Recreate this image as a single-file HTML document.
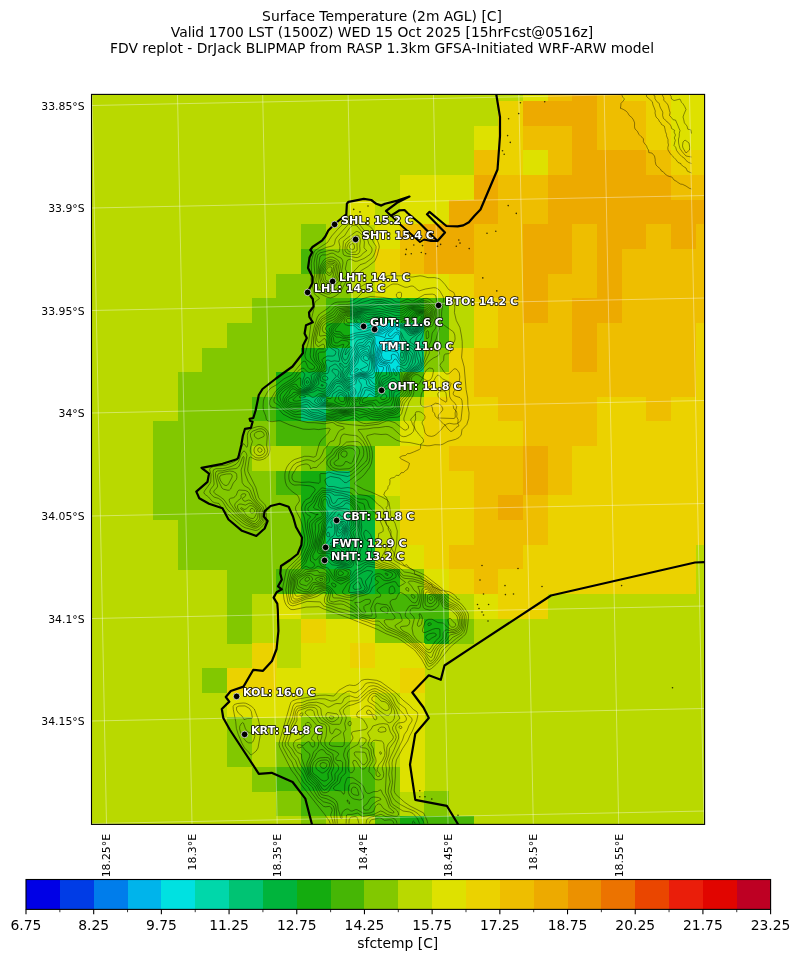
<!DOCTYPE html>
<html lang="en"><head><meta charset="utf-8"><title>Surface Temperature (2m AGL) [C]</title>
<style>html,body{margin:0;padding:0;background:#fff}body{width:799px;height:962px;overflow:hidden}svg text{white-space:pre}</style></head>
<body>
<svg width="799" height="962" viewBox="0 0 799 962" style="display:block">
<rect width="799" height="962" fill="#fff"/>
<defs><clipPath id="cp"><rect x="91.5" y="94.4" width="613.1" height="730.0"/></clipPath></defs>
<g clip-path="url(#cp)">
<rect x="91.5" y="94.4" width="613.1" height="730.0" fill="#b9d900"/>
<g shape-rendering="crispEdges">
<rect x="522.92" y="76.24" width="24.96" height="24.96" fill="#dee100"/>
<rect x="547.58" y="76.24" width="24.96" height="24.96" fill="#eebe00"/>
<rect x="572.24" y="76.24" width="24.96" height="24.96" fill="#edaa00"/>
<rect x="596.90" y="76.24" width="24.96" height="24.96" fill="#eebe00"/>
<rect x="621.56" y="76.24" width="49.62" height="24.96" fill="#ebd200"/>
<rect x="670.88" y="76.24" width="49.62" height="24.96" fill="#dee100"/>
<rect x="498.26" y="100.90" width="24.96" height="24.96" fill="#ebd200"/>
<rect x="522.92" y="100.90" width="74.28" height="24.96" fill="#edaa00"/>
<rect x="596.90" y="100.90" width="49.62" height="24.96" fill="#eebe00"/>
<rect x="646.22" y="100.90" width="24.96" height="24.96" fill="#ebd200"/>
<rect x="670.88" y="100.90" width="49.62" height="24.96" fill="#dee100"/>
<rect x="473.60" y="125.56" width="24.96" height="24.96" fill="#dee100"/>
<rect x="498.26" y="125.56" width="24.96" height="24.96" fill="#ebd200"/>
<rect x="522.92" y="125.56" width="49.62" height="24.96" fill="#eebe00"/>
<rect x="572.24" y="125.56" width="24.96" height="24.96" fill="#edaa00"/>
<rect x="596.90" y="125.56" width="49.62" height="24.96" fill="#eebe00"/>
<rect x="646.22" y="125.56" width="24.96" height="24.96" fill="#ebd200"/>
<rect x="670.88" y="125.56" width="49.62" height="24.96" fill="#dee100"/>
<rect x="473.60" y="150.22" width="24.96" height="24.96" fill="#eebe00"/>
<rect x="498.26" y="150.22" width="24.96" height="24.96" fill="#ebd200"/>
<rect x="522.92" y="150.22" width="24.96" height="24.96" fill="#dee100"/>
<rect x="547.58" y="150.22" width="24.96" height="24.96" fill="#eebe00"/>
<rect x="572.24" y="150.22" width="74.28" height="24.96" fill="#edaa00"/>
<rect x="646.22" y="150.22" width="24.96" height="24.96" fill="#eebe00"/>
<rect x="670.88" y="150.22" width="49.62" height="24.96" fill="#ebd200"/>
<rect x="399.62" y="174.88" width="74.28" height="24.96" fill="#dee100"/>
<rect x="473.60" y="174.88" width="24.96" height="24.96" fill="#edaa00"/>
<rect x="498.26" y="174.88" width="49.62" height="24.96" fill="#eebe00"/>
<rect x="547.58" y="174.88" width="123.60" height="24.96" fill="#edaa00"/>
<rect x="670.88" y="174.88" width="49.62" height="24.96" fill="#eebe00"/>
<rect x="350.30" y="199.54" width="24.96" height="24.96" fill="#dee100"/>
<rect x="399.62" y="199.54" width="49.62" height="24.96" fill="#dee100"/>
<rect x="448.94" y="199.54" width="49.62" height="24.96" fill="#edaa00"/>
<rect x="498.26" y="199.54" width="49.62" height="24.96" fill="#eebe00"/>
<rect x="547.58" y="199.54" width="172.92" height="24.96" fill="#edaa00"/>
<rect x="300.98" y="224.20" width="24.96" height="24.96" fill="#82c800"/>
<rect x="374.96" y="224.20" width="24.96" height="24.96" fill="#dee100"/>
<rect x="399.62" y="224.20" width="24.96" height="24.96" fill="#eebe00"/>
<rect x="424.28" y="224.20" width="49.62" height="24.96" fill="#edaa00"/>
<rect x="473.60" y="224.20" width="49.62" height="24.96" fill="#eebe00"/>
<rect x="522.92" y="224.20" width="49.62" height="24.96" fill="#edaa00"/>
<rect x="572.24" y="224.20" width="24.96" height="24.96" fill="#eebe00"/>
<rect x="596.90" y="224.20" width="49.62" height="24.96" fill="#edaa00"/>
<rect x="646.22" y="224.20" width="24.96" height="24.96" fill="#eebe00"/>
<rect x="670.88" y="224.20" width="24.96" height="24.96" fill="#edaa00"/>
<rect x="695.54" y="224.20" width="24.96" height="24.96" fill="#eebe00"/>
<rect x="300.98" y="248.86" width="24.96" height="24.96" fill="#46b605"/>
<rect x="325.64" y="248.86" width="24.96" height="24.96" fill="#82c800"/>
<rect x="374.96" y="248.86" width="24.96" height="24.96" fill="#ebd200"/>
<rect x="399.62" y="248.86" width="24.96" height="24.96" fill="#eebe00"/>
<rect x="424.28" y="248.86" width="49.62" height="24.96" fill="#edaa00"/>
<rect x="473.60" y="248.86" width="49.62" height="24.96" fill="#eebe00"/>
<rect x="522.92" y="248.86" width="49.62" height="24.96" fill="#edaa00"/>
<rect x="572.24" y="248.86" width="24.96" height="24.96" fill="#eebe00"/>
<rect x="596.90" y="248.86" width="24.96" height="24.96" fill="#edaa00"/>
<rect x="621.56" y="248.86" width="98.94" height="24.96" fill="#eebe00"/>
<rect x="276.32" y="273.52" width="74.28" height="24.96" fill="#82c800"/>
<rect x="374.96" y="273.52" width="74.28" height="24.96" fill="#dee100"/>
<rect x="448.94" y="273.52" width="24.96" height="24.96" fill="#ebd200"/>
<rect x="473.60" y="273.52" width="49.62" height="24.96" fill="#eebe00"/>
<rect x="522.92" y="273.52" width="24.96" height="24.96" fill="#edaa00"/>
<rect x="547.58" y="273.52" width="49.62" height="24.96" fill="#eebe00"/>
<rect x="596.90" y="273.52" width="24.96" height="24.96" fill="#edaa00"/>
<rect x="621.56" y="273.52" width="98.94" height="24.96" fill="#eebe00"/>
<rect x="251.66" y="298.18" width="74.28" height="24.96" fill="#82c800"/>
<rect x="325.64" y="298.18" width="24.96" height="24.96" fill="#46b605"/>
<rect x="350.30" y="298.18" width="49.62" height="24.96" fill="#00b43c"/>
<rect x="399.62" y="298.18" width="24.96" height="24.96" fill="#14ac0f"/>
<rect x="424.28" y="298.18" width="24.96" height="24.96" fill="#46b605"/>
<rect x="473.60" y="298.18" width="24.96" height="24.96" fill="#ebd200"/>
<rect x="498.26" y="298.18" width="24.96" height="24.96" fill="#eebe00"/>
<rect x="522.92" y="298.18" width="24.96" height="24.96" fill="#edaa00"/>
<rect x="547.58" y="298.18" width="24.96" height="24.96" fill="#eebe00"/>
<rect x="572.24" y="298.18" width="49.62" height="24.96" fill="#edaa00"/>
<rect x="621.56" y="298.18" width="98.94" height="24.96" fill="#eebe00"/>
<rect x="227.00" y="322.84" width="98.94" height="24.96" fill="#82c800"/>
<rect x="325.64" y="322.84" width="24.96" height="24.96" fill="#14ac0f"/>
<rect x="350.30" y="322.84" width="24.96" height="24.96" fill="#00d7aa"/>
<rect x="374.96" y="322.84" width="24.96" height="24.96" fill="#00e1e1"/>
<rect x="399.62" y="322.84" width="24.96" height="24.96" fill="#00c373"/>
<rect x="424.28" y="322.84" width="24.96" height="24.96" fill="#46b605"/>
<rect x="473.60" y="322.84" width="24.96" height="24.96" fill="#ebd200"/>
<rect x="498.26" y="322.84" width="74.28" height="24.96" fill="#eebe00"/>
<rect x="572.24" y="322.84" width="24.96" height="24.96" fill="#edaa00"/>
<rect x="596.90" y="322.84" width="98.94" height="24.96" fill="#eebe00"/>
<rect x="695.54" y="322.84" width="24.96" height="24.96" fill="#ebd200"/>
<rect x="202.34" y="347.50" width="98.94" height="24.96" fill="#82c800"/>
<rect x="300.98" y="347.50" width="24.96" height="24.96" fill="#14ac0f"/>
<rect x="325.64" y="347.50" width="24.96" height="24.96" fill="#00c373"/>
<rect x="350.30" y="347.50" width="24.96" height="24.96" fill="#00d7aa"/>
<rect x="374.96" y="347.50" width="24.96" height="24.96" fill="#00e1e1"/>
<rect x="399.62" y="347.50" width="24.96" height="24.96" fill="#00c373"/>
<rect x="424.28" y="347.50" width="24.96" height="24.96" fill="#82c800"/>
<rect x="448.94" y="347.50" width="24.96" height="24.96" fill="#ebd200"/>
<rect x="473.60" y="347.50" width="98.94" height="24.96" fill="#eebe00"/>
<rect x="572.24" y="347.50" width="24.96" height="24.96" fill="#edaa00"/>
<rect x="596.90" y="347.50" width="98.94" height="24.96" fill="#eebe00"/>
<rect x="695.54" y="347.50" width="24.96" height="24.96" fill="#ebd200"/>
<rect x="177.68" y="372.16" width="98.94" height="24.96" fill="#82c800"/>
<rect x="276.32" y="372.16" width="24.96" height="24.96" fill="#14ac0f"/>
<rect x="300.98" y="372.16" width="24.96" height="24.96" fill="#00b43c"/>
<rect x="325.64" y="372.16" width="24.96" height="24.96" fill="#00c373"/>
<rect x="350.30" y="372.16" width="24.96" height="24.96" fill="#00d7aa"/>
<rect x="374.96" y="372.16" width="24.96" height="24.96" fill="#00b43c"/>
<rect x="399.62" y="372.16" width="24.96" height="24.96" fill="#46b605"/>
<rect x="424.28" y="372.16" width="24.96" height="24.96" fill="#dee100"/>
<rect x="448.94" y="372.16" width="24.96" height="24.96" fill="#ebd200"/>
<rect x="473.60" y="372.16" width="222.24" height="24.96" fill="#eebe00"/>
<rect x="695.54" y="372.16" width="24.96" height="24.96" fill="#ebd200"/>
<rect x="177.68" y="396.82" width="74.28" height="24.96" fill="#82c800"/>
<rect x="251.66" y="396.82" width="24.96" height="24.96" fill="#46b605"/>
<rect x="276.32" y="396.82" width="24.96" height="24.96" fill="#14ac0f"/>
<rect x="300.98" y="396.82" width="24.96" height="24.96" fill="#00c373"/>
<rect x="325.64" y="396.82" width="74.28" height="24.96" fill="#14ac0f"/>
<rect x="424.28" y="396.82" width="74.28" height="24.96" fill="#ebd200"/>
<rect x="498.26" y="396.82" width="98.94" height="24.96" fill="#eebe00"/>
<rect x="596.90" y="396.82" width="49.62" height="24.96" fill="#ebd200"/>
<rect x="646.22" y="396.82" width="24.96" height="24.96" fill="#eebe00"/>
<rect x="670.88" y="396.82" width="49.62" height="24.96" fill="#ebd200"/>
<rect x="153.02" y="421.48" width="123.60" height="24.96" fill="#82c800"/>
<rect x="276.32" y="421.48" width="49.62" height="24.96" fill="#46b605"/>
<rect x="325.64" y="421.48" width="74.28" height="24.96" fill="#82c800"/>
<rect x="399.62" y="421.48" width="24.96" height="24.96" fill="#dee100"/>
<rect x="424.28" y="421.48" width="98.94" height="24.96" fill="#ebd200"/>
<rect x="522.92" y="421.48" width="74.28" height="24.96" fill="#eebe00"/>
<rect x="596.90" y="421.48" width="123.60" height="24.96" fill="#ebd200"/>
<rect x="153.02" y="446.14" width="98.94" height="24.96" fill="#82c800"/>
<rect x="300.98" y="446.14" width="24.96" height="24.96" fill="#82c800"/>
<rect x="325.64" y="446.14" width="49.62" height="24.96" fill="#46b605"/>
<rect x="374.96" y="446.14" width="24.96" height="24.96" fill="#dee100"/>
<rect x="399.62" y="446.14" width="49.62" height="24.96" fill="#ebd200"/>
<rect x="448.94" y="446.14" width="74.28" height="24.96" fill="#eebe00"/>
<rect x="522.92" y="446.14" width="24.96" height="24.96" fill="#edaa00"/>
<rect x="547.58" y="446.14" width="24.96" height="24.96" fill="#eebe00"/>
<rect x="572.24" y="446.14" width="148.26" height="24.96" fill="#ebd200"/>
<rect x="153.02" y="470.80" width="123.60" height="24.96" fill="#82c800"/>
<rect x="276.32" y="470.80" width="24.96" height="24.96" fill="#46b605"/>
<rect x="300.98" y="470.80" width="24.96" height="24.96" fill="#14ac0f"/>
<rect x="325.64" y="470.80" width="24.96" height="24.96" fill="#00c373"/>
<rect x="350.30" y="470.80" width="24.96" height="24.96" fill="#46b605"/>
<rect x="374.96" y="470.80" width="24.96" height="24.96" fill="#dee100"/>
<rect x="399.62" y="470.80" width="74.28" height="24.96" fill="#ebd200"/>
<rect x="473.60" y="470.80" width="49.62" height="24.96" fill="#eebe00"/>
<rect x="522.92" y="470.80" width="24.96" height="24.96" fill="#edaa00"/>
<rect x="547.58" y="470.80" width="24.96" height="24.96" fill="#eebe00"/>
<rect x="572.24" y="470.80" width="148.26" height="24.96" fill="#ebd200"/>
<rect x="153.02" y="495.46" width="148.26" height="24.96" fill="#82c800"/>
<rect x="300.98" y="495.46" width="24.96" height="24.96" fill="#14ac0f"/>
<rect x="325.64" y="495.46" width="24.96" height="24.96" fill="#00c373"/>
<rect x="350.30" y="495.46" width="24.96" height="24.96" fill="#14ac0f"/>
<rect x="399.62" y="495.46" width="74.28" height="24.96" fill="#ebd200"/>
<rect x="473.60" y="495.46" width="24.96" height="24.96" fill="#eebe00"/>
<rect x="498.26" y="495.46" width="24.96" height="24.96" fill="#edaa00"/>
<rect x="522.92" y="495.46" width="24.96" height="24.96" fill="#eebe00"/>
<rect x="547.58" y="495.46" width="172.92" height="24.96" fill="#ebd200"/>
<rect x="177.68" y="520.12" width="123.60" height="24.96" fill="#82c800"/>
<rect x="300.98" y="520.12" width="24.96" height="24.96" fill="#14ac0f"/>
<rect x="325.64" y="520.12" width="24.96" height="24.96" fill="#00c373"/>
<rect x="350.30" y="520.12" width="24.96" height="24.96" fill="#00b43c"/>
<rect x="399.62" y="520.12" width="74.28" height="24.96" fill="#ebd200"/>
<rect x="473.60" y="520.12" width="74.28" height="24.96" fill="#eebe00"/>
<rect x="547.58" y="520.12" width="172.92" height="24.96" fill="#ebd200"/>
<rect x="177.68" y="544.78" width="123.60" height="24.96" fill="#82c800"/>
<rect x="300.98" y="544.78" width="24.96" height="24.96" fill="#14ac0f"/>
<rect x="325.64" y="544.78" width="49.62" height="24.96" fill="#00b43c"/>
<rect x="399.62" y="544.78" width="24.96" height="24.96" fill="#dee100"/>
<rect x="424.28" y="544.78" width="24.96" height="24.96" fill="#ebd200"/>
<rect x="448.94" y="544.78" width="74.28" height="24.96" fill="#eebe00"/>
<rect x="522.92" y="544.78" width="172.92" height="24.96" fill="#ebd200"/>
<rect x="227.00" y="569.44" width="49.62" height="24.96" fill="#82c800"/>
<rect x="276.32" y="569.44" width="49.62" height="24.96" fill="#46b605"/>
<rect x="325.64" y="569.44" width="24.96" height="24.96" fill="#14ac0f"/>
<rect x="350.30" y="569.44" width="24.96" height="24.96" fill="#00b43c"/>
<rect x="374.96" y="569.44" width="24.96" height="24.96" fill="#14ac0f"/>
<rect x="399.62" y="569.44" width="24.96" height="24.96" fill="#82c800"/>
<rect x="424.28" y="569.44" width="24.96" height="24.96" fill="#dee100"/>
<rect x="448.94" y="569.44" width="24.96" height="24.96" fill="#ebd200"/>
<rect x="473.60" y="569.44" width="24.96" height="24.96" fill="#eebe00"/>
<rect x="498.26" y="569.44" width="197.58" height="24.96" fill="#ebd200"/>
<rect x="227.00" y="594.10" width="24.96" height="24.96" fill="#82c800"/>
<rect x="276.32" y="594.10" width="24.96" height="24.96" fill="#dee100"/>
<rect x="325.64" y="594.10" width="24.96" height="24.96" fill="#82c800"/>
<rect x="350.30" y="594.10" width="98.94" height="24.96" fill="#46b605"/>
<rect x="473.60" y="594.10" width="24.96" height="24.96" fill="#dee100"/>
<rect x="498.26" y="594.10" width="49.62" height="24.96" fill="#ebd200"/>
<rect x="227.00" y="618.76" width="24.96" height="24.96" fill="#82c800"/>
<rect x="300.98" y="618.76" width="24.96" height="24.96" fill="#ebd200"/>
<rect x="325.64" y="618.76" width="49.62" height="24.96" fill="#dee100"/>
<rect x="374.96" y="618.76" width="49.62" height="24.96" fill="#82c800"/>
<rect x="424.28" y="618.76" width="24.96" height="24.96" fill="#14ac0f"/>
<rect x="448.94" y="618.76" width="24.96" height="24.96" fill="#82c800"/>
<rect x="251.66" y="643.42" width="24.96" height="24.96" fill="#ebd200"/>
<rect x="300.98" y="643.42" width="49.62" height="24.96" fill="#dee100"/>
<rect x="350.30" y="643.42" width="24.96" height="24.96" fill="#ebd200"/>
<rect x="374.96" y="643.42" width="49.62" height="24.96" fill="#dee100"/>
<rect x="202.34" y="668.08" width="24.96" height="24.96" fill="#82c800"/>
<rect x="227.00" y="668.08" width="49.62" height="24.96" fill="#ebd200"/>
<rect x="276.32" y="668.08" width="123.60" height="24.96" fill="#dee100"/>
<rect x="399.62" y="668.08" width="24.96" height="24.96" fill="#ebd200"/>
<rect x="227.00" y="692.74" width="74.28" height="24.96" fill="#dee100"/>
<rect x="350.30" y="692.74" width="24.96" height="24.96" fill="#dee100"/>
<rect x="399.62" y="692.74" width="24.96" height="24.96" fill="#dee100"/>
<rect x="227.00" y="717.40" width="24.96" height="24.96" fill="#82c800"/>
<rect x="300.98" y="717.40" width="49.62" height="24.96" fill="#82c800"/>
<rect x="399.62" y="717.40" width="24.96" height="24.96" fill="#dee100"/>
<rect x="227.00" y="742.06" width="24.96" height="24.96" fill="#82c800"/>
<rect x="276.32" y="742.06" width="24.96" height="24.96" fill="#82c800"/>
<rect x="300.98" y="742.06" width="49.62" height="24.96" fill="#46b605"/>
<rect x="350.30" y="742.06" width="24.96" height="24.96" fill="#82c800"/>
<rect x="399.62" y="742.06" width="24.96" height="24.96" fill="#dee100"/>
<rect x="251.66" y="766.72" width="24.96" height="24.96" fill="#82c800"/>
<rect x="276.32" y="766.72" width="24.96" height="24.96" fill="#46b605"/>
<rect x="300.98" y="766.72" width="49.62" height="24.96" fill="#14ac0f"/>
<rect x="350.30" y="766.72" width="24.96" height="24.96" fill="#46b605"/>
<rect x="374.96" y="766.72" width="24.96" height="24.96" fill="#82c800"/>
<rect x="399.62" y="766.72" width="24.96" height="24.96" fill="#dee100"/>
<rect x="276.32" y="791.38" width="24.96" height="24.96" fill="#82c800"/>
<rect x="300.98" y="791.38" width="74.28" height="24.96" fill="#46b605"/>
<rect x="374.96" y="791.38" width="24.96" height="24.96" fill="#82c800"/>
<rect x="424.28" y="791.38" width="24.96" height="24.96" fill="#82c800"/>
<rect x="300.98" y="816.04" width="24.96" height="24.96" fill="#82c800"/>
<rect x="374.96" y="816.04" width="24.96" height="24.96" fill="#46b605"/>
<rect x="399.62" y="816.04" width="24.96" height="24.96" fill="#14ac0f"/>
<rect x="424.28" y="816.04" width="49.62" height="24.96" fill="#46b605"/>
</g>
<g fill="none" stroke="#000" stroke-opacity="0.6" stroke-width="0.7" stroke-linejoin="round">
<path d="M351.1 217.0 353.5 216.8 359.0 219.3 365.0 223.9 369.5 226.3 372.0 228.3 373.1 230.0 378.8 244.0 379.3 247.0 377.3 255.0 375.0 260.8 368.0 266.5 361.3 270.5 353.7 278.0 351.0 281.9 349.0 286.0 347.0 291.0 347.0 293.5 348.0 293.5 351.5 291.3 356.5 289.3 365.5 283.8 372.5 282.9 378.0 278.6 388.0 275.9 391.5 275.4 398.0 275.9 403.5 275.7 412.0 277.1 420.0 275.8 423.0 276.2 428.0 277.7 434.5 277.6 439.0 278.6 441.4 280.5 445.0 284.5 448.6 289.5 453.8 292.5 454.8 295.0 455.0 298.5 454.0 303.0 454.8 307.5 454.4 312.5 456.3 320.5 459.9 327.5 461.5 336.0 462.2 341.5 462.3 348.0 461.6 357.5 464.2 367.0 466.1 389.5 467.7 398.0 467.9 406.0 469.1 413.0 468.7 418.5 466.8 424.5 462.0 429.7 461.2 435.0 459.1 437.5 455.5 439.4 448.0 441.3 443.0 444.1 440.5 444.9 435.0 444.7 430.0 445.7 427.0 445.8 419.5 444.7 410.0 442.6 401.5 441.9 396.5 440.1 388.0 434.8 386.0 434.2 381.0 434.5 374.5 433.8 367.2 435.5 366.7 436.0 366.8 437.5 370.5 445.0 372.2 451.5 372.4 457.0 371.5 463.0 369.6 467.5 364.5 474.4 361.3 477.5 355.7 481.5 354.6 483.5 355.1 484.5 364.0 489.5 370.5 491.8 382.0 497.0 387.0 499.9 388.9 502.0 390.3 510.5 390.5 515.5 395.0 523.2 397.3 531.0 396.5 545.0 393.6 557.5 393.6 559.0 394.3 560.5 401.1 564.5 422.0 573.7 425.5 575.7 441.0 587.8 447.1 593.5 460.5 603.1 464.4 607.5 468.1 613.5 468.5 616.5 467.7 625.0 466.6 631.5 465.6 634.0 463.5 636.2 450.3 647.0 436.5 664.1 431.5 668.5 429.5 669.6 428.0 669.5 426.5 668.2 421.5 659.0 414.6 650.0 400.8 640.0 397.4 638.0 386.0 633.7 377.8 629.5 348.7 618.0 323.0 608.7 319.0 606.7 306.0 607.1 294.0 609.6 291.0 609.5 289.0 608.2 286.5 605.5 285.2 603.0 284.1 599.5 282.6 588.0 286.3 570.5 287.8 568.0 298.2 558.0 300.5 555.0 304.0 545.9 304.9 540.0 304.5 536.0 302.0 524.2 300.1 518.5 296.6 512.0 295.4 509.0 295.8 506.5 299.5 501.0 299.0 498.0 297.7 495.5 292.0 491.4 288.0 487.6 286.6 485.5 285.4 482.0 284.9 478.0 284.9 474.0 285.5 470.5 286.9 467.0 288.9 464.0 291.5 461.4 294.5 459.5 304.5 456.3 309.0 456.3 313.5 457.2 315.4 456.5 316.1 455.5 318.9 445.0 320.0 442.2 322.0 439.4 327.8 433.5 330.3 429.0 329.5 428.4 328.0 428.2 318.5 429.6 314.0 429.0 309.0 429.4 303.0 429.1 290.0 425.1 280.5 420.9 278.5 420.8 272.0 421.7 268.0 421.1 266.4 419.5 265.7 416.0 263.5 410.6 263.1 406.5 263.4 401.0 264.1 398.5 267.2 392.5 269.5 389.3 271.5 387.6 276.5 384.8 284.0 378.8 291.5 375.1 302.5 361.8 304.0 361.1 305.5 361.5 308.1 367.5 309.5 369.0 312.5 369.4 313.7 369.0 314.6 368.0 314.5 366.5 313.0 364.7 306.1 359.5 304.9 356.0 305.3 353.0 308.8 340.5 311.7 318.0 313.7 309.5 314.6 303.5 315.5 301.5 319.5 298.5 319.0 297.5 315.5 295.1 314.3 293.5 311.3 282.0 311.0 279.0 311.6 274.0 311.3 263.5 311.8 259.5 313.6 253.0 315.0 250.5 327.5 242.5 331.7 236.0 337.5 229.5 347.0 219.9 351.1 217.0ZM365.5 355.4 363.5 356.5 363.1 358.5 365.0 360.3 367.5 360.8 368.5 359.7 368.4 358.0 367.0 356.0 365.5 355.4ZM306.5 381.0 306.3 383.0 307.5 383.7 308.3 383.0 308.4 381.5 307.5 380.6 306.5 381.0ZM257.7 426.5 260.5 426.4 263.5 427.3 266.0 429.1 267.8 431.5 269.2 436.0 269.9 449.5 269.5 452.5 268.1 455.5 266.0 457.7 263.5 459.2 260.0 460.1 257.0 460.0 254.5 459.2 250.5 457.0 249.5 457.4 249.2 458.5 247.7 469.0 248.0 471.6 255.8 487.5 258.6 497.5 260.0 499.6 264.8 504.5 265.8 506.5 266.3 509.0 266.3 519.0 265.4 522.5 263.5 525.0 259.5 528.8 257.5 530.1 255.5 530.5 245.0 527.7 241.5 525.7 223.8 510.5 221.6 508.0 219.0 503.5 214.5 502.7 212.5 501.7 208.5 497.0 204.5 494.0 203.9 492.5 204.5 491.0 210.0 483.5 210.8 481.5 211.0 474.5 209.6 469.5 210.0 468.2 213.5 466.6 226.6 465.0 235.5 461.1 236.9 459.0 243.0 443.9 244.0 443.9 246.5 447.2 247.0 447.2 247.4 446.5 247.8 443.5 247.3 435.5 247.8 433.0 248.8 431.0 252.0 428.3 257.7 426.5ZM243.2 703.0 245.5 703.2 248.0 704.2 251.7 706.5 254.3 709.0 258.2 719.0 260.6 729.5 260.3 735.0 258.0 748.0 256.2 751.0 251.5 754.8 250.3 754.5 248.5 752.0 244.5 748.0 241.8 743.0 238.3 734.5 236.4 728.5 235.7 721.5 233.3 709.5 233.1 706.5 234.4 704.5 237.5 703.5 243.2 703.0ZM330.2 823.5 329.3 821.0 324.5 814.2 301.1 784.5 296.0 776.2 291.3 770.0 279.8 747.5 279.0 744.5 279.6 741.0 289.8 705.5 290.9 702.5 292.5 700.8 297.5 699.1 319.5 695.3 325.5 695.1 333.3 696.0 335.0 694.9 339.0 690.2 346.5 685.9 349.5 685.0 353.5 685.5 355.5 685.3 358.0 684.0 361.5 680.4 364.5 679.5 368.0 679.3 376.5 680.3 381.0 682.0 396.5 693.4 403.0 700.1 409.5 705.3 413.4 709.5 416.5 711.5 417.6 713.0 417.8 715.5 416.7 720.5 412.4 731.0 409.9 735.5 407.6 741.0 402.6 748.5 396.4 760.0 395.5 765.5 395.3 777.0 394.2 790.5 394.7 792.5 395.9 794.5 404.3 802.0 410.0 806.0 423.5 812.9 426.9 820.0 427.8 823.5M353.0 222.0 356.5 222.6 359.1 224.0 365.0 231.5 369.5 235.0 371.3 237.0 373.3 242.0 376.0 246.2 376.0 248.5 375.0 252.5 373.5 256.0 371.5 258.5 365.5 262.9 360.0 264.8 354.0 271.2 349.5 277.8 345.0 283.2 341.0 291.1 339.5 293.0 336.0 295.7 333.0 297.2 330.5 297.9 328.0 297.5 317.6 292.5 316.7 291.0 314.5 284.0 313.7 280.0 314.8 273.5 314.0 263.0 315.4 255.5 316.5 252.9 318.5 251.1 326.0 247.5 332.0 246.0 333.5 245.3 334.5 243.7 335.4 239.5 337.0 237.0 348.5 224.2 351.0 222.4 353.0 222.0ZM392.9 284.0 397.5 284.1 405.0 287.3 407.5 287.2 411.0 286.0 413.0 286.1 414.6 287.0 417.5 290.0 419.5 290.8 425.5 289.0 433.5 287.7 435.5 287.8 437.5 288.7 439.6 290.5 443.1 296.5 443.6 299.0 441.7 311.5 441.4 322.0 443.0 324.4 453.5 331.9 454.8 335.0 455.1 339.0 454.5 341.5 451.9 345.0 450.5 352.2 449.0 353.6 445.5 354.0 444.5 354.6 443.9 356.0 443.6 360.5 440.5 364.0 439.9 365.5 444.5 372.5 446.5 373.9 448.0 374.0 449.5 373.4 453.5 369.3 455.0 368.6 457.0 369.6 459.3 373.0 459.8 377.0 458.9 385.0 457.0 388.5 453.7 391.5 453.2 393.5 453.5 394.7 454.5 395.8 460.0 397.6 461.3 399.0 462.0 400.7 462.5 406.0 461.0 420.0 459.5 422.2 456.5 423.8 454.0 424.1 449.5 423.3 446.8 424.0 443.5 426.5 441.0 430.0 436.1 434.5 434.0 435.8 431.5 436.4 428.0 435.8 426.5 434.7 425.0 432.8 423.6 426.5 422.0 423.0 422.4 421.5 424.8 418.5 425.0 416.5 424.3 415.0 422.5 413.2 420.5 412.0 418.5 411.6 416.0 411.9 415.3 413.0 415.7 419.0 414.0 423.0 414.2 428.0 413.3 431.5 411.0 434.0 406.0 436.4 403.5 436.7 401.3 436.0 392.5 428.0 389.0 426.6 385.5 426.5 379.0 427.6 373.5 427.8 368.0 428.8 358.3 429.5 358.4 430.5 361.5 434.1 366.5 442.5 368.9 448.0 369.7 452.5 369.9 457.5 369.3 461.0 368.0 463.9 359.9 472.0 352.5 478.3 346.5 482.6 345.0 482.6 344.0 482.2 341.0 479.2 339.0 478.0 330.5 476.4 325.5 478.9 324.9 480.5 326.4 484.5 328.5 486.5 333.5 486.5 341.0 488.4 348.0 487.5 352.5 488.5 354.7 490.0 357.0 493.2 358.5 494.4 367.0 495.7 370.1 497.0 373.3 499.5 377.4 504.0 381.5 506.9 383.2 509.0 384.3 511.5 383.9 517.5 384.2 519.5 387.1 526.0 390.2 529.5 391.0 531.5 390.9 536.0 392.0 542.0 392.1 545.5 390.9 549.5 387.0 556.5 386.7 558.5 387.4 560.0 396.5 565.3 404.5 572.0 410.0 572.8 420.5 576.0 424.0 577.8 439.5 589.0 446.5 596.4 459.0 604.9 461.9 608.0 465.1 613.0 466.2 616.5 465.8 623.5 464.9 629.5 463.8 632.5 462.0 634.5 456.3 638.5 444.4 648.5 442.7 650.5 440.0 656.0 436.0 661.5 433.0 664.4 429.5 666.4 428.5 666.2 427.5 665.3 423.7 658.0 416.0 648.7 403.8 639.0 398.0 635.5 386.0 630.8 378.5 625.4 372.5 624.1 367.5 622.0 361.5 620.2 353.0 615.6 339.0 611.6 330.0 608.0 324.5 606.3 323.0 605.4 321.0 602.6 320.0 601.9 307.0 601.4 294.5 605.5 292.5 605.8 290.5 605.3 288.8 604.0 287.9 602.0 285.8 590.0 287.5 579.5 289.5 571.0 294.9 564.5 301.5 558.4 307.3 545.5 307.9 541.5 307.6 537.5 305.8 528.5 304.5 518.0 301.8 510.0 301.6 507.5 302.8 504.0 304.5 501.0 306.0 499.7 310.0 497.6 312.2 494.0 314.7 491.0 315.2 489.5 314.0 487.5 310.5 485.9 300.0 484.9 294.5 485.1 291.7 484.0 289.9 482.0 288.9 479.0 288.8 475.0 289.5 471.5 293.0 465.5 296.5 462.8 304.5 460.2 307.0 459.8 310.0 460.2 314.5 461.8 319.5 458.7 322.3 454.0 324.0 449.5 327.0 446.3 329.0 443.0 330.5 441.7 334.0 440.5 338.7 431.5 340.5 430.1 344.0 428.7 344.5 428.0 343.0 426.7 337.0 425.3 333.5 422.9 332.0 422.4 324.5 423.8 314.5 422.7 308.0 422.6 291.0 418.3 283.0 414.1 278.2 408.5 272.5 407.5 270.6 406.5 269.4 404.0 269.9 400.5 275.4 391.5 282.0 385.2 293.0 378.1 295.0 375.9 297.7 371.5 300.0 369.4 302.5 368.2 304.0 368.3 307.5 372.0 309.0 372.6 314.5 371.3 317.0 369.0 317.5 367.5 317.3 366.5 311.3 359.0 310.5 357.0 310.2 354.5 312.1 337.0 314.2 327.0 317.4 317.0 319.5 314.0 327.5 308.6 332.0 304.4 334.5 302.9 337.5 302.1 347.5 301.8 352.5 300.7 357.5 297.5 362.5 292.5 366.0 291.0 372.0 291.0 378.0 292.6 379.5 292.6 390.4 285.0 392.9 284.0ZM398.0 292.5 396.4 294.0 396.4 296.0 397.6 298.0 399.5 298.4 400.5 298.0 401.5 296.5 401.5 293.1 400.5 292.1 398.0 292.5ZM364.5 353.9 361.6 356.0 360.9 357.5 360.9 359.0 361.9 360.5 366.8 363.5 367.5 364.5 367.5 365.5 366.5 366.5 360.2 369.5 362.5 371.5 365.5 372.3 367.4 371.5 368.4 370.0 370.1 360.5 369.5 357.6 368.0 355.1 366.5 353.9 364.5 353.9ZM429.5 368.0 427.6 369.0 425.7 371.0 422.5 377.5 422.0 377.7 418.0 374.7 415.5 374.6 413.5 375.7 411.9 377.5 411.3 379.5 411.9 381.0 416.5 385.0 417.5 385.2 419.0 384.0 422.5 378.2 427.0 380.7 428.5 380.7 430.0 380.0 431.5 378.3 432.5 376.0 433.6 370.5 432.5 368.5 429.5 368.0ZM355.5 369.0 353.6 371.0 353.4 372.0 354.0 372.5 356.4 371.5 358.6 369.5 357.0 368.5 355.5 369.0ZM307.0 377.5 305.0 379.2 304.1 382.0 304.9 385.0 306.0 386.0 307.0 386.2 309.5 384.8 310.2 383.5 310.5 381.5 309.4 378.5 308.0 377.5 307.0 377.5ZM258.4 429.0 261.0 428.7 263.0 429.3 265.0 430.7 266.5 433.0 267.2 437.0 266.6 445.5 267.6 450.5 267.1 453.0 265.5 455.5 262.5 457.4 259.0 458.1 256.0 457.7 253.5 456.1 251.0 453.5 250.2 451.0 250.7 447.0 252.4 441.5 250.4 436.0 250.5 433.5 252.5 431.2 258.4 429.0ZM243.0 451.5 244.0 451.0 245.0 451.5 246.4 453.5 246.9 455.5 244.5 470.0 245.2 474.0 248.2 481.5 252.6 487.5 256.0 498.8 257.9 501.5 262.9 506.5 264.1 509.5 264.3 518.5 263.7 521.5 259.5 526.2 256.0 528.2 253.5 528.0 246.0 525.2 242.0 522.7 234.0 516.0 227.0 509.0 223.2 502.5 221.6 500.5 218.5 498.4 214.0 497.1 210.8 494.0 209.7 492.0 210.4 489.5 213.5 485.5 214.1 484.0 213.1 471.5 213.5 469.8 216.0 468.7 222.5 468.6 227.7 467.5 232.0 466.2 236.0 464.2 238.5 461.5 241.0 454.7 243.0 451.5ZM238.9 706.0 245.0 705.9 249.5 708.5 251.3 711.5 252.4 718.0 251.5 718.5 247.5 718.5 244.0 719.5 242.0 716.0 238.5 713.2 236.5 710.0 236.5 707.3 238.9 706.0ZM330.5 715.9 329.3 717.0 330.0 718.6 332.0 719.1 333.7 718.0 333.9 717.0 333.5 716.5 330.5 715.9ZM242.7 722.5 243.5 723.1 245.5 728.9 247.5 731.5 250.0 733.0 254.0 733.5 254.8 734.5 254.8 736.5 253.9 739.5 252.7 742.0 251.5 742.9 248.5 742.8 246.0 741.3 243.5 737.8 240.5 732.2 239.6 729.0 239.7 726.5 241.0 723.9 242.7 722.5ZM400.0 725.9 399.2 726.5 399.1 727.5 400.0 728.5 401.0 728.7 401.8 728.0 401.9 727.0 401.0 726.0 400.0 725.9ZM333.2 823.5 332.7 821.0 330.8 816.0 330.8 814.5 332.2 810.5 331.5 807.8 329.5 806.4 325.5 806.8 323.5 806.3 317.4 800.5 311.0 792.0 308.5 787.5 303.4 782.0 300.0 776.0 296.2 771.0 293.9 767.0 291.9 762.0 288.3 757.0 283.2 747.5 282.3 745.0 282.3 743.0 284.8 735.5 286.5 726.5 289.5 718.5 292.9 706.5 293.9 704.5 295.0 703.6 297.0 702.9 302.0 702.5 307.5 700.4 319.0 698.7 325.0 698.9 331.0 701.1 334.0 700.8 337.1 699.5 341.5 694.8 347.5 691.4 349.5 691.1 354.0 692.8 356.0 692.7 362.0 688.4 365.5 683.7 367.5 682.9 370.5 682.6 374.5 683.0 378.0 684.0 386.5 689.1 389.6 691.5 394.9 696.5 398.0 702.6 405.5 708.4 407.8 714.5 412.0 718.5 412.0 721.0 409.0 725.5 407.1 730.5 404.3 734.5 402.5 740.0 392.7 759.5 392.0 763.0 392.3 768.0 391.8 773.0 392.5 782.5 390.8 792.0 392.5 797.0 395.0 800.5 400.4 804.5 407.5 808.3 414.0 811.0 417.7 813.5 420.7 816.5 423.4 821.5 424.0 823.5M393.8 823.5 393.2 821.5 391.5 820.1 389.5 819.8 384.5 820.3 381.0 818.2 379.5 817.9 371.5 819.8 370.0 821.2 369.3 823.5M352.4 225.5 355.0 225.1 357.1 226.0 366.5 237.5 367.6 239.5 368.9 244.0 371.8 248.0 372.1 250.0 371.6 252.0 369.9 254.5 364.0 258.5 357.5 261.1 355.0 261.3 350.5 259.1 347.7 260.0 346.9 261.5 345.3 269.0 347.0 272.5 347.0 274.5 346.0 276.2 343.0 279.0 340.0 285.0 338.0 287.4 330.0 293.9 327.5 294.2 324.0 293.1 321.0 291.5 319.5 290.0 317.0 284.5 316.0 281.0 315.9 279.0 316.9 274.0 316.7 260.5 317.6 255.5 318.5 254.0 320.0 252.9 329.0 250.5 333.0 250.4 337.5 252.1 339.0 252.0 339.6 250.5 339.9 246.5 338.8 241.5 339.1 240.0 340.5 238.5 344.5 235.9 349.2 228.5 352.4 225.5ZM424.7 294.5 432.5 294.1 435.0 294.9 435.8 296.0 436.6 300.0 439.1 305.5 439.1 315.5 438.4 322.0 439.1 329.0 437.5 333.5 436.2 339.0 433.0 345.0 432.4 347.0 432.9 348.5 434.0 349.8 435.5 350.6 439.0 351.4 439.4 353.0 438.9 354.5 437.7 356.0 433.4 358.0 428.5 361.6 421.5 370.4 420.0 371.3 413.8 373.5 411.4 375.5 409.7 378.0 409.6 381.0 412.8 387.5 413.9 392.5 413.0 395.5 409.0 402.0 403.9 418.0 403.9 420.0 404.5 421.4 407.6 424.5 408.5 426.0 408.5 428.0 407.1 429.5 405.5 430.1 404.0 429.8 395.0 422.7 389.0 420.8 386.5 421.0 378.5 424.2 364.5 425.9 349.5 424.6 339.5 423.2 332.5 420.2 326.0 421.5 323.5 421.5 309.5 419.4 303.0 417.6 295.5 416.9 291.4 415.5 284.5 411.3 282.9 410.0 279.5 405.6 274.4 402.5 273.9 401.0 274.0 399.5 275.6 395.0 277.2 392.5 282.5 387.1 294.0 379.9 300.5 372.0 302.0 371.6 303.0 371.8 304.7 374.0 304.7 375.5 303.2 379.0 302.5 382.0 302.7 384.5 303.8 386.5 305.3 387.5 307.0 387.6 309.4 386.5 310.9 385.0 312.1 381.0 311.1 375.5 312.0 374.4 316.5 372.0 318.9 369.0 319.7 367.0 319.1 365.5 315.0 361.0 313.4 356.5 314.1 349.5 313.5 344.5 313.5 338.0 316.0 326.5 318.7 320.5 320.7 317.5 330.0 311.5 334.8 306.5 339.0 304.8 345.5 304.7 354.0 303.6 362.5 298.7 370.5 296.5 382.5 297.4 389.5 298.6 391.5 299.2 396.0 301.9 399.0 302.3 401.5 301.7 407.0 299.1 408.5 299.4 411.5 300.9 413.0 301.0 424.7 294.5ZM364.5 351.9 361.5 353.8 359.8 356.0 358.6 358.5 357.8 362.5 351.1 371.0 350.2 373.5 350.5 375.1 353.0 375.0 359.5 372.3 365.0 373.3 367.0 373.2 369.2 372.0 370.9 370.0 371.6 368.5 371.8 366.0 371.6 361.5 370.8 358.5 369.5 355.6 367.0 352.0 366.0 351.6 364.5 351.9ZM437.1 375.5 438.0 375.1 439.0 375.4 442.5 378.8 450.2 382.5 451.1 383.5 449.2 389.0 449.7 396.5 451.0 399.5 455.2 403.5 456.7 406.5 455.1 413.0 455.3 417.0 454.9 418.0 454.0 418.5 438.5 418.0 438.1 417.0 438.5 415.0 442.4 410.5 442.9 409.0 441.5 405.9 438.5 403.7 435.5 403.2 431.0 405.8 425.0 407.2 422.5 406.5 420.7 404.5 420.4 402.0 421.3 394.5 422.0 392.5 423.5 390.7 431.5 384.8 435.5 377.5 437.1 375.5ZM257.9 431.5 260.5 431.2 262.7 432.0 264.1 434.0 264.2 435.5 263.7 436.5 258.5 438.8 257.5 438.7 255.6 437.5 254.4 436.0 254.3 434.0 255.7 432.5 257.9 431.5ZM344.0 434.0 350.0 435.1 355.5 435.5 358.0 436.4 363.0 441.5 366.0 447.0 367.2 453.0 367.4 457.0 367.0 459.6 365.5 462.0 357.4 469.5 351.0 475.1 347.5 476.5 334.0 473.7 329.0 472.0 325.5 473.6 320.6 473.5 320.0 474.5 320.2 481.0 319.8 482.5 319.0 483.3 309.0 482.0 301.0 482.4 295.0 481.6 293.0 480.5 291.9 478.0 292.2 475.0 297.0 466.9 301.0 464.9 306.0 463.9 308.0 464.4 309.5 465.5 310.3 467.0 310.5 468.9 313.0 467.6 316.5 467.5 320.0 463.5 323.0 461.1 325.5 457.5 330.9 453.0 333.6 448.5 337.5 446.5 339.3 445.0 340.1 443.0 340.3 439.5 341.0 437.0 342.2 435.0 344.0 434.0ZM258.2 444.5 260.0 444.6 262.5 445.9 264.0 448.0 264.9 450.5 264.8 452.0 264.0 453.5 262.0 454.9 260.0 455.6 257.9 455.5 256.0 454.5 254.7 453.0 254.0 451.0 254.1 449.0 254.9 447.0 258.2 444.5ZM243.4 456.5 244.0 457.0 244.0 458.8 243.0 464.2 241.1 470.0 242.2 482.5 244.1 485.5 248.5 488.2 250.0 489.6 253.6 498.5 256.0 501.8 261.3 507.5 262.5 510.5 262.9 518.0 262.5 520.5 259.0 524.6 257.0 526.2 255.5 526.7 253.0 526.3 247.5 523.8 243.0 520.8 235.8 514.5 232.8 510.5 228.5 506.3 224.0 499.7 220.0 496.6 215.0 493.7 213.7 492.0 214.1 490.5 217.0 487.8 217.7 486.0 215.7 477.5 215.5 473.5 216.0 471.8 217.5 470.9 222.5 470.9 228.5 469.3 235.5 468.6 237.2 468.0 238.5 466.9 239.7 465.0 242.5 457.5 243.4 456.5ZM321.5 488.0 323.0 487.9 327.0 489.1 332.0 489.1 338.0 490.6 349.5 492.3 351.5 493.3 354.5 496.8 356.5 498.2 359.0 499.0 364.5 499.2 366.5 500.0 367.6 501.5 369.3 507.0 373.5 511.6 375.5 512.9 379.1 513.0 379.4 514.0 378.9 516.5 379.2 518.5 383.0 527.5 383.3 530.0 383.0 531.3 382.3 532.0 378.7 533.5 378.3 537.5 376.2 541.5 376.7 544.0 378.2 545.5 380.0 545.9 384.5 545.1 385.6 545.5 386.3 546.5 385.8 549.5 380.6 559.0 381.2 561.0 383.0 562.2 391.0 564.7 394.5 566.4 398.4 569.5 402.0 574.4 403.5 575.6 410.5 576.4 420.0 578.5 427.5 582.4 438.5 589.8 447.0 600.0 449.1 601.5 457.0 605.6 459.5 608.0 462.1 611.5 464.0 615.0 464.4 617.5 464.2 625.5 462.5 631.2 460.0 633.6 452.5 637.5 449.3 641.0 441.0 647.9 439.6 650.0 438.2 654.5 436.4 658.0 434.3 661.0 432.0 663.0 430.0 663.7 428.6 663.0 425.3 657.0 418.0 648.8 405.8 638.0 396.5 632.7 386.5 628.5 379.5 621.4 378.0 621.0 372.5 621.3 363.5 618.7 360.5 617.4 353.5 612.6 344.0 609.5 338.5 608.4 326.0 604.1 324.8 602.5 324.4 600.5 324.6 598.0 326.1 594.0 326.1 593.0 325.5 592.4 323.4 592.5 317.0 596.4 311.5 598.1 306.0 599.0 296.5 602.8 292.5 603.3 290.2 602.0 288.7 595.5 288.4 588.5 289.1 581.0 291.0 573.4 292.0 571.4 296.5 566.0 301.4 562.0 303.0 560.0 309.1 547.0 310.2 543.0 310.2 539.5 307.6 528.0 307.3 523.5 308.0 519.7 310.6 517.0 310.0 516.0 307.0 514.5 305.8 513.0 304.9 510.0 305.1 507.0 306.7 504.0 311.5 501.4 314.5 495.5 321.5 488.0ZM365.0 530.5 364.0 532.0 363.7 534.0 365.0 538.8 367.0 541.0 368.5 541.3 370.5 540.8 371.5 539.9 371.8 538.5 370.6 534.5 367.5 531.0 366.0 530.2 365.0 530.5ZM339.5 570.9 338.5 571.6 337.9 573.0 338.5 575.1 340.5 575.6 343.0 574.5 343.5 573.5 342.6 572.0 341.0 570.9 339.5 570.9ZM383.5 606.9 380.9 608.0 380.3 609.0 380.6 610.0 383.0 611.6 387.5 613.3 388.2 610.5 387.5 608.0 386.0 607.0 383.5 606.9ZM328.0 712.5 327.0 712.9 326.1 714.0 325.7 716.5 327.0 719.0 330.0 721.4 332.0 721.9 334.0 721.4 336.4 720.0 338.4 718.0 338.7 716.0 337.0 713.9 328.0 712.5ZM355.5 751.9 354.4 752.5 354.2 753.5 355.2 756.0 359.0 759.4 361.8 764.0 363.5 764.7 365.0 764.2 366.8 762.0 367.6 759.5 365.7 753.0 364.0 752.2 355.5 751.9ZM335.2 823.5 334.2 817.0 334.6 810.0 333.4 806.0 330.5 803.6 323.5 801.8 318.0 797.5 314.1 791.0 312.5 787.0 307.7 783.0 306.1 781.0 302.9 774.0 298.0 767.3 295.5 760.5 291.9 756.0 289.5 751.6 285.5 746.0 285.0 743.0 287.9 734.5 288.9 726.5 292.3 718.5 294.5 709.1 296.5 706.3 302.5 705.3 308.5 702.8 316.5 702.2 323.2 704.0 327.5 706.9 329.0 707.1 335.0 703.9 337.0 703.5 340.5 703.7 341.5 703.3 342.5 702.1 344.1 698.5 348.0 696.2 350.5 695.9 355.5 697.7 357.5 697.6 368.5 686.8 370.5 686.0 373.5 685.7 377.5 686.6 385.5 691.1 388.5 693.6 392.4 698.0 395.5 704.9 401.0 711.5 404.5 714.9 406.4 718.0 406.3 720.0 405.2 721.5 403.5 722.3 398.5 723.0 396.7 724.5 395.7 726.5 395.9 729.0 398.5 734.5 398.7 738.0 394.1 749.5 390.5 757.1 388.8 762.0 389.5 768.0 388.7 774.5 390.2 782.0 388.3 789.0 388.1 792.0 391.6 802.5 392.8 804.5 403.0 811.0 409.5 811.9 413.0 813.4 417.7 819.0 419.5 823.5M358.9 823.5 357.5 818.0 356.5 816.8 355.0 816.5 351.5 817.0 349.9 818.0 349.1 820.0 349.0 823.5M397.0 823.5 396.2 820.5 394.0 818.6 391.5 817.6 386.0 816.6 381.0 814.3 368.3 818.0 366.6 820.0 366.1 823.5M356.2 231.5 357.5 231.5 359.5 232.5 362.7 236.0 364.4 242.0 364.0 247.5 364.5 248.5 366.3 250.0 366.5 251.0 363.5 252.8 360.5 256.2 357.5 257.5 355.5 257.5 352.0 256.7 347.5 256.3 344.0 255.2 343.2 254.0 342.7 250.0 343.4 241.5 344.6 240.0 356.2 231.5ZM330.0 253.5 332.0 253.1 333.5 253.4 337.5 256.3 341.1 258.0 342.5 260.2 343.0 263.0 341.2 274.0 338.5 281.5 331.0 290.2 329.0 291.5 327.0 291.8 324.5 291.0 322.2 289.5 320.7 287.5 319.1 284.0 318.1 280.0 318.2 269.5 319.8 257.5 320.5 256.0 322.5 254.9 327.0 254.9 330.0 253.5Z"/>
<path d="M424.0 298.5 427.0 298.4 430.0 299.5 435.0 304.1 436.7 306.5 437.4 315.0 436.2 322.0 435.9 327.0 435.4 328.5 432.2 333.0 431.1 341.0 428.9 345.5 428.8 347.5 429.4 353.0 423.9 364.5 420.5 368.9 414.5 371.7 411.5 373.8 408.5 377.8 408.2 381.0 411.2 389.5 411.4 393.0 410.3 395.5 404.3 403.5 401.6 413.5 399.5 416.5 397.5 417.1 388.0 417.8 379.0 422.0 366.5 423.7 363.5 423.4 360.0 422.1 357.5 420.7 355.0 418.4 353.5 417.8 349.5 419.4 341.0 421.1 338.5 420.9 332.5 418.7 326.5 419.8 323.5 419.8 314.0 418.2 309.0 416.6 303.0 414.0 296.0 414.6 293.0 413.9 284.5 408.6 277.9 401.0 277.1 399.0 277.2 396.0 278.2 394.0 281.0 390.7 283.5 388.5 294.9 381.5 299.5 377.8 300.5 378.0 300.8 379.0 300.7 385.5 303.2 388.0 305.5 388.8 307.5 388.5 310.4 387.0 312.2 385.0 313.8 381.0 314.2 376.5 321.1 368.5 321.7 367.0 321.0 365.1 317.7 362.0 316.5 360.0 315.8 355.5 316.2 352.0 317.0 350.3 318.5 348.8 323.4 349.0 324.5 348.0 324.7 347.0 324.5 345.5 323.5 344.2 322.5 344.3 318.5 346.5 317.0 345.8 315.5 343.5 315.0 337.1 317.3 327.0 319.5 322.3 322.0 318.8 331.9 313.0 336.5 307.9 340.0 306.7 345.0 306.7 354.5 305.6 360.5 302.9 371.5 299.6 381.5 299.6 390.0 301.9 394.5 304.2 398.0 304.6 401.0 304.2 406.5 302.2 410.5 303.1 413.5 303.0 424.0 298.5ZM427.0 330.9 426.4 331.5 426.0 333.0 426.4 338.5 427.0 338.9 428.2 338.0 428.8 336.5 428.5 331.7 428.0 330.9 427.0 330.9ZM366.0 349.0 362.0 351.1 360.0 353.1 357.4 357.5 355.2 362.5 346.9 375.0 346.8 376.5 347.6 377.5 349.0 378.0 350.5 377.9 359.5 373.4 365.5 374.2 368.4 374.0 371.0 372.8 372.7 371.0 373.4 368.0 372.3 360.0 369.3 353.0 368.3 349.5 367.5 348.8 366.0 349.0ZM440.8 391.0 444.0 390.8 445.1 391.5 446.0 393.0 446.8 399.5 446.6 401.5 446.0 402.2 440.5 399.1 438.2 396.5 437.7 394.5 438.0 393.2 439.0 392.0 440.8 391.0ZM354.7 441.5 358.0 441.6 360.5 443.2 362.8 447.0 363.8 451.0 363.7 454.5 363.0 457.0 357.0 466.0 351.5 471.1 348.0 472.6 338.0 471.9 333.0 470.4 330.0 468.4 327.1 464.5 326.8 462.5 327.1 461.0 328.7 458.5 333.4 454.5 336.0 450.3 342.2 446.0 346.5 442.1 354.7 441.5ZM258.4 448.0 260.0 447.7 261.7 449.0 262.1 450.5 261.2 452.0 259.5 452.3 258.2 451.5 257.6 450.0 258.4 448.0ZM229.4 471.0 233.0 471.4 236.0 473.0 236.7 474.5 236.9 477.5 236.3 479.5 233.3 483.0 230.6 489.0 229.5 490.0 228.0 490.3 223.5 489.2 221.9 488.0 218.2 480.0 217.5 476.0 218.0 474.2 219.0 473.3 229.4 471.0ZM239.0 490.0 245.5 490.5 248.0 491.7 249.0 493.0 251.0 498.0 259.1 507.0 260.4 509.0 261.2 512.5 261.2 519.5 259.6 522.0 256.0 524.9 254.5 525.2 252.5 524.7 244.5 519.8 237.4 513.5 230.0 503.0 229.2 500.5 229.4 499.0 230.5 498.3 233.5 497.7 235.0 496.7 236.3 495.0 237.9 491.0 239.0 490.0ZM321.7 491.0 323.5 490.6 330.5 490.7 336.0 492.4 342.0 493.2 347.0 494.6 350.0 495.9 354.0 499.3 358.5 502.2 363.0 503.5 364.1 504.5 365.9 513.5 365.1 515.0 362.0 517.9 361.0 521.0 361.8 527.0 360.9 534.0 362.9 540.0 363.2 544.0 360.0 551.0 358.2 559.5 358.6 561.5 360.5 561.9 367.5 559.2 373.0 558.7 381.0 563.7 392.0 567.2 395.0 568.7 397.5 570.8 400.9 576.0 403.0 577.7 405.0 578.4 412.5 578.9 419.5 580.9 427.0 583.9 438.0 591.0 440.2 593.5 445.8 602.0 448.0 603.5 453.0 605.3 456.0 607.0 458.1 609.0 461.0 613.0 462.6 616.5 463.0 623.0 462.6 626.5 461.2 630.0 459.9 631.5 457.0 633.2 450.5 634.9 449.5 635.6 446.9 640.0 438.3 648.0 436.4 651.5 434.3 658.0 432.0 660.8 430.5 661.2 429.5 660.6 426.3 655.5 418.1 647.0 413.2 643.0 407.0 636.8 396.0 630.5 389.0 627.4 386.1 625.0 384.3 622.0 384.2 621.0 384.7 620.0 386.0 619.6 392.5 619.7 394.3 619.0 395.1 617.5 394.5 616.0 391.2 612.0 389.5 607.0 387.0 604.8 381.0 604.1 377.5 603.2 376.0 603.8 375.1 605.5 374.8 607.5 376.2 617.0 375.0 618.4 372.5 618.9 362.0 616.3 359.5 614.7 355.0 610.5 343.5 604.5 341.0 604.0 334.5 604.2 329.0 603.0 327.5 601.5 327.0 599.5 328.5 594.5 328.6 592.5 327.8 591.0 326.0 590.0 323.0 590.6 312.0 596.0 304.5 597.9 297.5 600.8 294.0 601.3 292.5 600.8 291.8 600.0 290.5 595.5 290.2 585.5 290.5 581.5 291.6 577.0 293.5 572.9 304.3 561.5 308.0 552.5 310.9 547.5 312.1 543.5 312.4 540.5 309.5 527.5 309.4 523.5 310.4 521.5 314.5 518.0 316.5 514.6 318.0 514.6 318.3 514.0 316.0 514.4 309.5 511.9 308.0 510.5 307.9 508.5 309.0 506.8 313.9 502.0 316.5 496.0 321.7 491.0ZM369.5 546.5 371.0 547.3 371.6 549.5 371.5 552.0 370.0 553.0 368.0 552.1 366.9 549.5 367.3 547.5 369.5 546.5ZM375.5 553.0 376.4 553.0 376.5 553.8 376.0 554.5 375.0 554.7 374.8 554.0 375.5 553.0ZM338.5 569.0 336.8 570.5 336.0 573.0 336.3 575.5 337.5 577.0 340.0 577.6 343.7 577.0 346.5 576.0 348.1 574.5 348.3 572.5 347.0 571.2 341.9 569.0 338.5 569.0ZM392.0 585.9 390.0 587.0 389.3 588.5 389.1 593.0 390.0 593.9 393.5 593.4 394.9 591.5 394.9 590.0 394.0 587.5 393.0 586.2 392.0 585.9ZM406.0 587.9 405.6 589.0 406.0 589.9 408.5 591.4 408.9 590.0 408.5 588.4 407.5 587.6 406.0 587.9ZM411.5 594.5 411.1 595.5 412.2 597.5 413.5 598.4 414.5 598.1 415.1 597.0 414.8 596.0 413.5 595.0 411.5 594.5ZM367.5 710.4 366.4 712.0 367.0 713.9 368.5 714.4 372.0 714.6 374.0 719.2 375.5 719.8 376.5 719.3 376.9 718.0 376.0 715.9 374.8 715.0 372.5 714.3 369.9 710.5 368.5 710.1 367.5 710.4ZM360.5 737.9 357.9 744.5 351.0 748.2 348.7 750.5 347.5 753.0 347.3 755.5 348.7 761.0 348.1 768.0 349.0 771.3 350.5 772.9 352.5 772.4 354.3 769.5 354.3 767.0 352.7 762.5 353.5 760.6 355.0 760.4 356.1 761.0 360.0 767.4 361.5 768.7 363.0 769.1 364.5 768.7 366.0 767.4 370.2 760.5 370.2 758.0 368.8 751.0 368.0 749.5 365.5 748.1 361.0 747.6 360.0 747.0 360.0 746.4 362.5 745.6 364.0 744.2 366.0 741.3 366.2 739.5 364.0 738.0 361.5 737.6 360.5 737.9ZM337.3 823.5 336.6 812.0 335.8 806.5 334.9 804.0 333.5 802.4 330.5 800.6 326.5 798.7 321.5 797.4 319.5 795.9 314.7 786.0 309.8 782.0 308.2 780.0 304.0 770.0 300.6 765.0 298.0 757.9 295.1 754.5 292.0 749.0 288.3 745.0 288.0 742.5 291.3 733.0 291.0 728.0 291.3 726.0 294.3 720.0 295.5 712.0 297.0 709.0 298.5 708.1 302.5 707.4 307.5 705.3 310.5 704.9 316.0 705.2 319.9 707.5 320.9 709.0 321.4 714.0 322.8 717.5 324.6 719.5 329.5 723.2 332.0 724.3 339.5 724.3 340.5 723.3 342.2 718.5 341.8 716.0 339.6 711.0 339.7 710.0 340.9 708.5 348.5 702.0 351.0 701.0 356.0 700.8 358.5 700.1 368.0 691.4 372.0 689.2 375.0 688.6 377.0 689.1 384.9 693.5 389.1 697.5 396.2 709.5 398.0 714.6 399.9 718.0 399.4 719.0 394.6 723.5 392.5 727.5 392.8 730.0 395.6 734.5 396.2 737.5 395.1 740.5 389.5 748.4 388.8 755.0 386.0 763.0 385.8 765.0 386.5 769.0 385.4 791.0 385.7 793.0 387.9 797.5 390.3 805.0 391.5 806.5 395.5 809.2 397.4 811.0 398.4 813.0 398.5 815.0 397.0 816.4 394.0 816.2 387.5 814.5 383.0 811.7 380.5 811.0 373.8 814.5 363.0 816.6 361.5 816.1 359.0 813.9 357.5 813.1 352.0 814.4 347.5 814.4 346.7 815.0 346.4 816.0 346.1 823.5M412.6 823.5 412.8 821.5 413.5 821.1 414.5 822.0 415.0 823.5M355.9 235.5 357.0 235.2 358.5 235.6 360.0 238.0 360.4 241.0 359.7 246.0 360.0 250.0 359.6 252.0 358.5 253.6 356.5 254.5 351.0 254.5 348.0 253.7 346.0 252.3 345.0 250.5 345.1 247.0 345.9 243.5 348.0 241.0 355.9 235.5ZM330.1 257.0 333.0 257.2 337.8 260.0 339.8 263.0 340.3 267.0 339.1 274.5 337.0 280.5 335.4 282.5 331.9 285.5 329.7 288.5 328.5 289.3 327.0 289.5 325.4 289.0 323.5 287.6 321.2 283.5 319.6 278.0 319.4 270.0 320.3 266.0 323.5 260.4 325.8 258.5 330.1 257.0ZM421.6 301.0 424.5 300.5 427.5 301.3 430.3 303.0 433.6 306.0 435.0 308.0 435.6 310.0 436.0 313.5 435.7 316.5 432.7 325.5 431.5 326.5 427.0 327.6 425.0 329.3 423.5 332.0 422.0 337.3 418.5 342.5 418.4 344.5 419.0 345.6 420.0 346.1 423.5 346.4 425.5 347.8 426.3 350.5 425.9 354.0 423.2 362.5 421.4 366.0 419.4 368.0 414.5 370.4 411.5 372.5 409.4 374.5 407.8 377.0 407.1 380.5 409.6 390.0 409.6 393.0 408.5 395.0 402.5 401.9 400.2 410.5 398.0 413.4 394.5 414.9 386.5 416.3 381.0 419.1 377.5 420.0 370.5 419.5 367.0 416.9 365.0 416.2 359.5 418.2 354.0 415.0 345.0 416.6 339.5 419.1 332.5 417.3 324.5 418.5 314.0 416.5 309.5 414.7 305.0 411.9 302.5 411.1 300.0 410.9 295.5 412.1 293.5 411.8 285.5 407.0 282.7 404.0 280.6 400.5 279.9 397.0 280.7 394.5 283.6 391.0 291.5 385.3 294.5 384.1 296.4 384.5 297.7 387.0 298.9 388.0 304.0 389.6 307.0 389.6 310.4 388.0 312.5 386.3 314.4 383.5 316.4 377.0 318.3 373.5 323.3 368.0 323.4 366.5 322.8 365.0 319.5 361.5 318.7 360.0 318.1 354.5 318.5 353.0 319.5 352.2 324.5 351.9 327.0 349.8 327.3 348.0 325.9 340.0 325.0 338.7 324.0 338.6 320.0 342.1 318.5 342.4 317.0 340.7 316.5 337.5 319.1 326.0 321.5 321.9 323.9 319.5 333.5 314.6 337.0 310.0 339.0 308.7 349.5 307.4 355.0 307.2 360.5 305.4 367.6 304.5 374.5 301.9 381.0 301.3 394.0 306.0 400.0 306.5 406.0 304.4 411.0 304.6 415.0 304.0 421.6 301.0ZM368.0 345.9 364.0 348.1 360.5 349.4 359.5 350.4 354.0 361.5 347.7 371.0 344.9 374.5 344.7 376.5 346.5 378.7 348.5 379.6 350.5 379.7 355.8 376.0 359.0 374.4 361.0 374.2 366.0 375.1 370.5 375.3 372.5 374.7 374.0 373.2 374.9 370.0 373.6 361.0 370.6 353.5 369.8 347.0 369.0 345.8 368.0 345.9ZM347.3 445.5 351.0 445.3 355.6 446.0 358.0 447.5 359.3 449.5 359.7 453.0 355.7 463.5 352.0 467.1 349.0 468.7 339.5 469.3 335.5 468.6 333.0 467.5 331.3 466.0 330.3 464.0 330.1 462.0 330.7 460.5 335.3 456.5 336.9 452.5 338.4 450.5 341.5 448.4 347.3 445.5ZM226.4 474.0 230.5 473.8 231.7 474.5 232.3 476.0 231.9 477.5 228.5 484.0 227.5 485.1 226.0 485.6 224.0 484.9 222.0 482.9 220.2 480.0 219.6 477.5 220.0 476.0 221.0 475.2 226.4 474.0ZM322.8 492.5 329.5 492.3 331.4 493.0 334.5 495.2 340.5 495.1 348.0 497.0 355.5 502.6 359.6 508.5 360.6 513.0 359.3 520.0 360.0 527.5 358.5 534.0 358.9 536.0 360.6 539.5 360.8 541.5 356.9 554.0 355.7 562.0 356.5 564.9 358.0 565.5 359.5 565.2 365.0 562.5 368.0 561.7 375.5 563.0 382.5 566.1 392.5 569.2 395.0 570.4 397.0 572.5 400.5 578.7 405.2 582.0 405.3 582.5 404.3 583.5 399.0 586.6 398.0 585.9 396.0 582.2 394.5 581.6 393.0 581.7 384.9 584.0 377.9 588.5 377.0 590.0 377.0 591.0 380.0 593.6 380.6 594.5 380.6 596.0 380.0 596.8 376.5 597.5 374.0 600.5 370.7 608.5 372.2 614.0 372.0 615.5 371.4 616.0 366.0 615.7 362.0 614.5 359.9 613.0 355.5 608.2 348.0 603.3 344.5 601.7 339.5 600.6 333.5 602.0 330.8 601.5 329.8 600.5 329.4 599.0 330.4 594.5 330.2 592.0 329.0 589.9 327.0 588.7 325.0 588.6 323.0 589.1 311.0 594.9 303.5 596.8 297.5 599.1 294.5 599.0 293.0 597.4 291.6 585.0 291.8 581.5 292.8 577.5 294.7 574.0 299.0 570.3 305.9 562.5 309.4 553.5 312.5 548.0 313.9 543.0 314.2 540.0 312.5 532.0 311.8 525.5 312.2 523.5 316.0 519.4 321.0 517.0 322.3 515.5 322.1 513.5 320.7 511.5 318.5 509.9 314.5 508.8 313.7 508.0 313.6 507.0 316.3 502.0 318.2 497.0 320.6 494.0 322.8 492.5ZM242.1 494.0 244.5 493.7 245.5 494.1 245.9 495.0 245.1 496.5 242.2 498.5 243.3 500.5 245.0 501.4 248.5 500.0 250.5 500.5 257.0 506.5 259.0 509.3 259.7 512.5 259.7 518.5 258.5 520.7 255.5 523.4 254.0 523.6 252.5 523.2 246.0 519.2 238.5 512.3 235.2 507.0 234.7 505.5 235.0 503.8 237.5 500.9 240.7 498.5 241.1 498.0 241.0 495.4 242.1 494.0ZM322.0 558.8 321.2 560.5 322.0 563.5 324.0 564.9 326.0 564.6 326.5 563.0 325.0 560.2 323.5 558.7 322.0 558.8ZM337.0 567.5 335.1 569.5 334.1 573.0 335.0 576.5 337.0 578.5 340.5 579.2 345.0 578.3 348.5 576.6 350.4 574.5 351.0 571.5 350.0 570.0 341.5 567.4 339.0 567.2 337.0 567.5ZM409.8 581.0 413.5 581.2 426.5 585.2 436.5 591.3 439.5 594.5 444.5 603.0 446.5 604.5 452.5 606.8 455.2 608.5 459.4 613.5 461.0 616.5 461.6 624.5 461.0 627.0 460.0 629.0 458.0 630.9 454.5 632.5 447.0 632.6 446.4 633.5 446.1 637.0 445.5 638.5 443.0 641.4 436.4 647.5 433.7 652.0 432.0 656.9 431.3 657.5 430.5 657.4 424.0 651.5 419.5 646.5 414.7 642.5 409.0 636.3 400.5 631.5 396.3 628.0 394.9 626.0 395.5 625.0 401.4 621.5 402.1 620.5 402.1 619.5 400.0 613.5 399.0 612.9 395.0 612.2 393.1 610.5 390.0 603.0 390.4 601.0 392.5 599.6 396.0 599.0 398.5 594.0 399.5 592.8 400.5 592.5 403.0 593.5 407.0 596.3 411.0 601.2 412.7 602.5 414.5 602.9 416.0 602.6 417.5 600.0 418.2 597.0 417.9 594.0 417.0 592.5 414.0 590.2 411.5 586.1 408.2 582.5 408.7 581.5 409.8 581.0ZM372.3 691.5 374.5 691.1 376.5 691.6 385.5 697.2 388.6 700.0 391.0 703.7 394.3 710.5 394.8 714.5 394.2 718.5 393.0 720.5 391.5 722.0 389.5 722.8 388.0 722.5 378.5 713.3 374.5 710.4 371.9 707.5 368.5 706.0 366.5 705.9 365.0 706.4 361.5 709.5 357.7 712.0 356.6 714.5 357.0 716.9 361.5 718.3 363.5 719.8 366.7 725.0 367.4 727.5 366.5 728.9 365.0 729.6 353.5 731.5 351.7 732.5 351.5 734.0 352.9 737.0 352.8 738.5 349.7 744.0 345.5 747.9 343.6 754.0 343.8 756.5 345.8 761.5 345.7 772.5 344.9 774.0 341.5 777.0 339.5 782.8 334.5 786.5 333.5 788.0 333.5 789.0 335.0 790.2 340.5 791.0 341.9 792.0 343.0 793.9 344.0 794.2 344.6 792.5 344.8 784.5 346.5 779.0 347.5 777.7 348.5 777.4 353.0 777.8 362.1 784.5 363.8 787.0 365.5 791.5 367.5 793.3 369.5 793.4 373.5 791.7 377.5 791.5 380.0 790.0 381.0 789.9 382.5 793.5 385.8 798.5 389.2 807.5 390.5 809.0 393.3 811.0 394.1 812.5 392.5 813.1 388.9 812.0 383.5 808.5 380.5 804.3 378.5 803.9 377.0 804.6 375.7 806.0 373.5 811.5 370.0 813.0 363.5 813.4 357.0 809.6 355.5 809.6 352.0 811.2 350.5 810.8 348.0 808.9 346.0 809.2 343.9 810.5 342.3 812.5 341.7 814.5 342.1 818.0 341.5 818.9 340.5 817.9 339.8 814.0 338.2 809.5 337.6 804.0 336.2 801.0 334.0 799.0 328.5 796.0 323.0 795.1 321.0 794.1 316.3 785.0 310.7 780.0 308.0 775.8 301.7 758.5 301.4 754.0 298.0 752.7 296.5 751.3 294.1 747.5 293.3 744.5 293.9 742.5 295.5 740.3 300.5 738.7 305.0 735.0 305.2 733.0 304.0 731.7 302.5 731.2 297.5 732.2 296.5 731.9 294.0 729.0 293.7 726.5 296.9 720.5 297.0 713.5 298.5 710.5 308.5 707.2 312.0 707.2 315.0 707.8 317.0 709.6 318.0 714.5 320.3 719.0 321.9 720.5 326.5 723.1 328.8 725.5 329.6 727.5 329.7 731.0 330.5 733.1 331.5 733.8 332.7 733.5 334.8 729.5 336.0 728.8 339.5 730.0 341.3 732.0 339.6 734.0 333.0 737.9 329.7 742.5 329.3 744.0 329.7 745.0 332.0 746.1 341.0 746.7 343.0 746.4 344.1 745.0 344.6 739.5 343.4 733.0 345.8 729.5 344.7 723.5 346.3 718.0 345.9 716.5 343.4 712.5 343.3 711.0 343.8 709.5 345.5 707.5 348.0 705.9 353.0 704.6 361.0 701.5 369.0 693.4 372.3 691.5ZM307.0 722.4 305.4 724.0 305.7 726.5 308.0 728.3 309.5 728.5 310.5 728.1 311.3 726.5 310.6 724.0 309.0 722.5 307.0 722.4ZM379.2 724.0 383.5 723.6 387.5 724.3 388.5 725.8 390.4 732.0 393.0 735.9 393.4 737.5 392.5 739.6 388.3 744.0 386.8 747.5 386.7 755.5 382.4 766.5 382.4 768.5 383.7 773.5 383.4 777.0 381.5 779.4 378.5 779.9 376.0 779.6 374.5 778.9 371.5 774.4 368.9 771.5 369.6 766.5 372.7 761.5 373.1 759.5 371.5 754.5 371.0 749.5 368.0 745.0 368.2 743.5 370.1 738.5 367.7 733.5 368.1 732.0 371.0 729.5 372.9 726.0 379.2 724.0ZM347.0 800.0 347.5 802.1 349.5 804.0 349.7 803.0 349.0 801.5 348.0 800.3 347.0 800.0ZM353.6 239.5 355.5 239.8 356.9 242.0 357.2 249.5 356.6 251.0 355.5 251.9 351.5 252.4 349.1 251.5 347.5 250.1 346.9 249.0 346.9 247.0 348.5 243.4 353.6 239.5ZM327.7 260.0 331.0 259.6 335.5 260.8 337.8 263.5 338.5 266.5 337.1 275.5 335.5 280.0 334.0 281.9 332.0 283.4 327.5 284.8 324.5 283.6 321.9 280.5 321.1 278.0 320.4 271.5 321.0 268.0 322.5 265.0 325.0 261.7 327.7 260.0ZM421.7 302.5 424.0 302.1 426.5 302.6 429.0 304.1 432.0 306.8 434.2 310.5 434.5 313.0 434.2 316.0 433.1 319.0 430.8 323.0 425.0 327.5 421.0 333.3 417.4 336.5 416.1 338.5 415.6 342.5 416.5 346.0 418.0 348.2 421.5 350.5 422.5 352.0 422.9 356.5 422.1 361.5 421.2 364.0 419.8 366.0 411.0 371.7 408.6 374.0 407.0 376.5 406.1 380.0 408.0 389.5 407.9 392.5 406.7 394.5 402.5 398.5 401.0 400.5 400.0 403.0 399.1 409.0 397.0 411.8 394.0 413.3 386.5 414.6 381.5 416.9 378.5 417.6 373.0 417.0 365.0 414.1 359.0 415.2 356.5 413.3 355.0 412.9 349.5 414.5 343.1 415.5 339.0 417.2 332.0 415.9 325.0 417.2 311.5 413.9 309.0 412.6 305.7 410.0 304.0 409.3 299.5 408.6 295.0 409.5 293.0 409.3 287.0 406.2 284.1 403.5 282.7 400.0 283.4 397.0 288.8 389.5 291.5 387.1 294.0 386.5 297.8 389.5 305.5 390.7 309.0 389.7 313.2 387.0 316.4 383.0 317.7 377.5 319.6 373.5 321.0 371.8 324.0 370.0 325.0 368.8 324.8 366.0 322.1 361.0 322.1 359.5 323.0 358.5 327.5 356.0 333.0 356.1 335.0 355.0 335.9 352.5 335.5 351.0 330.5 347.9 328.5 345.1 328.0 343.0 328.1 338.5 327.5 336.9 326.5 335.9 325.0 335.4 320.0 336.1 319.5 335.4 319.4 334.0 320.4 327.0 322.5 323.4 326.5 320.3 335.0 316.4 337.7 312.0 339.0 310.6 341.5 309.7 349.5 308.6 354.5 308.8 360.5 307.2 368.0 306.5 375.5 303.9 379.5 303.0 382.0 303.5 388.0 306.2 393.5 307.6 401.0 308.7 406.0 306.3 415.8 305.0 421.7 302.5ZM369.5 341.5 368.3 342.0 366.0 345.0 364.5 346.3 359.5 347.4 358.5 348.1 356.5 354.0 353.0 360.3 349.0 366.8 343.6 373.5 343.1 375.5 343.4 377.0 345.0 379.0 347.5 380.7 349.5 381.5 351.5 381.3 355.9 377.0 359.5 375.2 362.0 375.1 367.5 376.3 372.5 378.2 374.0 377.4 375.7 375.0 376.5 372.5 376.5 370.0 374.5 360.5 371.8 353.5 371.8 348.0 371.1 343.5 370.5 342.1 369.5 341.5ZM347.5 448.0 350.0 447.9 352.4 448.5 354.0 449.7 355.2 451.5 355.4 453.5 352.6 462.0 351.5 463.0 350.0 463.4 347.0 461.6 345.5 461.5 343.5 464.8 341.0 466.0 337.5 465.9 335.0 465.0 334.2 464.0 334.1 462.5 334.9 461.5 338.6 459.0 338.5 454.0 339.3 452.0 342.5 449.5 347.5 448.0ZM323.5 494.5 326.5 494.1 329.1 495.0 330.4 497.0 332.0 502.4 333.5 503.5 335.5 502.7 337.4 499.5 338.5 498.6 345.5 498.4 349.5 499.7 355.0 504.5 357.4 508.5 358.4 512.0 357.7 519.0 358.5 527.5 355.8 534.0 356.3 536.0 358.2 540.0 358.4 541.5 356.9 547.5 354.7 553.5 353.7 563.5 353.0 565.5 352.0 566.7 350.5 567.4 348.0 567.5 338.0 565.5 332.0 564.8 328.5 561.4 325.7 557.5 323.0 556.4 320.5 557.2 319.2 559.5 319.3 562.5 321.0 565.5 322.5 566.6 327.0 567.7 328.4 568.5 334.5 578.5 336.5 579.9 339.5 580.8 343.0 580.5 349.0 578.1 351.4 576.0 355.0 570.4 360.5 568.4 364.5 565.0 367.5 563.7 375.5 565.0 387.5 569.7 392.5 571.1 394.9 572.5 396.0 574.5 396.1 576.5 395.5 577.6 390.5 580.1 388.0 580.7 385.5 580.6 383.0 579.9 379.5 576.3 378.0 576.0 376.5 576.5 375.4 577.5 375.0 579.0 375.6 580.0 378.2 581.5 378.3 582.5 377.0 584.0 372.5 587.0 369.9 592.5 368.5 593.5 364.0 595.2 357.0 597.0 352.5 600.8 340.0 598.1 333.5 597.9 332.8 597.0 332.2 593.0 331.3 590.5 329.5 588.4 327.0 587.2 324.5 587.4 317.0 589.3 309.5 594.0 298.0 596.3 296.5 596.1 295.5 595.4 293.7 591.5 293.0 582.5 293.7 578.5 295.2 575.5 300.5 571.5 303.2 568.0 305.0 566.6 306.5 566.3 309.3 568.0 311.0 568.2 313.1 567.5 314.6 565.5 314.0 563.3 310.5 561.0 310.3 557.5 311.0 554.5 313.7 549.5 315.6 541.0 315.8 538.0 315.0 532.5 315.5 528.5 315.2 523.5 317.0 521.1 322.5 518.0 324.2 515.5 323.6 512.5 318.8 507.0 318.2 505.5 320.0 498.0 321.5 495.8 323.5 494.5Z"/>
<path d="M248.6 503.5 250.0 503.0 252.0 503.7 256.0 507.1 257.8 510.0 258.2 513.0 257.7 517.5 256.5 519.7 254.5 521.4 252.0 521.1 246.8 518.0 239.4 511.0 237.6 508.0 237.5 505.6 239.0 504.2 241.0 504.0 245.5 505.1 248.6 503.5ZM417.8 586.5 424.0 586.1 426.5 586.5 436.0 592.4 438.8 595.5 443.5 604.2 445.5 605.8 451.3 608.0 454.0 609.6 458.3 614.5 459.5 617.1 460.1 624.5 459.7 626.5 458.5 628.5 456.5 630.1 453.5 631.2 451.0 631.1 447.0 629.7 444.7 630.5 443.1 633.0 443.2 637.0 442.6 638.5 434.7 646.5 431.5 651.7 430.0 652.9 428.0 652.3 425.2 650.5 420.8 645.5 415.9 641.5 410.0 634.9 408.0 633.4 403.0 631.0 400.4 628.0 400.4 627.0 401.0 626.5 407.0 625.9 408.5 625.0 409.4 623.5 409.8 621.5 409.5 619.9 405.9 617.0 405.1 615.0 405.9 611.5 408.9 606.5 411.0 605.4 417.0 605.7 418.5 604.2 420.0 598.5 420.2 595.5 419.3 590.0 417.8 586.5ZM365.3 599.5 369.5 599.2 370.3 600.0 370.5 601.5 369.5 603.7 365.0 605.3 363.9 606.5 363.9 609.0 365.8 612.0 365.5 612.7 364.5 613.0 362.7 612.5 361.3 611.5 355.1 603.5 354.8 602.5 360.0 602.4 365.3 599.5ZM428.5 623.0 427.8 624.5 428.5 625.7 430.5 625.1 431.5 624.0 430.5 622.8 428.5 623.0ZM372.8 693.5 375.0 693.3 377.0 694.2 382.0 698.2 386.5 700.4 388.6 702.5 390.9 706.5 391.7 710.0 391.0 712.6 388.5 715.5 386.5 715.4 383.5 713.7 377.1 709.0 373.7 705.0 369.5 702.7 368.2 701.5 367.8 700.0 368.5 698.0 370.6 695.0 372.8 693.5ZM307.7 710.0 310.5 709.7 313.0 710.5 313.8 711.5 314.8 715.5 318.7 722.0 320.5 723.2 324.5 724.3 326.0 725.6 326.7 729.0 326.1 736.0 324.6 740.5 325.2 745.0 328.5 748.5 335.0 751.0 338.2 753.0 338.6 754.5 336.0 757.6 335.8 759.5 337.0 760.5 341.0 760.7 342.6 762.5 342.5 770.0 341.8 771.5 338.3 775.5 337.3 781.0 336.1 782.5 331.7 786.0 328.6 791.5 326.0 792.7 323.5 792.7 322.0 791.9 317.1 783.5 311.0 777.6 308.6 774.0 306.7 764.5 307.3 762.0 309.8 756.5 309.9 755.0 309.5 753.7 305.5 750.5 302.5 746.7 299.0 748.1 298.0 747.8 297.2 746.5 297.5 745.0 299.0 744.3 303.0 745.7 307.0 742.2 309.0 741.4 309.7 742.0 310.4 744.5 312.0 746.8 313.5 747.1 314.7 745.5 314.6 742.0 313.5 740.7 311.6 739.5 311.4 738.5 312.0 737.0 316.1 731.5 317.3 729.0 317.6 727.0 317.0 725.5 311.5 719.2 305.0 713.0 305.5 711.5 307.7 710.0ZM300.9 713.0 302.5 713.0 303.1 713.5 302.0 716.0 301.0 716.5 300.1 715.5 299.9 714.5 300.9 713.0ZM349.0 721.5 350.5 721.3 351.2 722.5 351.0 725.0 350.0 725.9 348.9 725.5 348.0 724.1 348.0 723.0 349.0 721.5ZM381.7 727.0 384.0 727.2 385.3 728.0 386.1 730.0 385.5 731.5 381.0 732.3 378.5 731.5 378.1 730.5 378.5 729.0 380.0 727.6 381.7 727.0ZM373.4 740.5 375.5 740.2 381.5 741.0 383.3 742.5 383.9 744.5 384.1 748.0 385.0 752.5 384.7 755.5 382.5 760.3 378.7 765.0 377.2 769.5 377.5 771.0 380.2 774.5 380.0 775.8 379.0 776.5 377.5 776.4 376.4 775.5 376.0 774.0 376.1 771.0 373.6 767.5 373.8 766.0 375.7 763.0 376.1 761.0 375.7 758.5 373.8 754.0 373.3 748.5 371.0 744.5 371.5 742.4 373.4 740.5ZM350.9 783.5 353.0 783.0 355.0 783.3 357.5 784.5 359.7 786.5 363.5 796.0 363.3 798.0 362.0 799.4 359.5 800.0 354.0 799.0 351.5 797.6 349.6 795.5 348.4 792.5 348.4 788.0 349.3 785.0 350.9 783.5ZM373.6 797.0 378.3 797.5 380.5 798.5 381.0 799.5 377.0 801.2 373.8 803.5 371.6 805.5 369.5 808.9 368.5 809.8 366.0 810.2 363.9 809.5 363.0 808.0 363.5 806.6 367.0 803.9 370.0 798.8 371.5 797.7 373.6 797.0ZM352.4 243.5 354.0 244.4 354.6 247.0 354.1 249.0 352.5 249.7 350.5 249.0 349.2 247.0 350.0 244.8 352.4 243.5ZM328.8 261.5 331.5 261.4 335.0 262.4 336.4 264.0 336.9 266.5 335.5 275.0 334.0 279.5 331.5 282.1 328.0 283.0 325.2 282.0 323.5 280.0 321.7 271.0 322.4 268.0 324.5 264.8 326.5 262.6 328.8 261.5ZM421.8 304.0 424.0 303.6 426.0 304.0 428.5 305.4 431.0 307.6 433.0 311.0 432.9 316.0 431.9 318.5 429.6 322.0 424.3 327.0 420.5 331.8 411.9 338.0 410.0 340.1 410.0 342.0 414.0 344.7 418.1 351.5 420.5 358.3 420.5 362.0 419.7 364.0 418.5 365.5 414.0 368.2 410.0 371.4 407.9 373.5 406.2 376.0 405.2 379.5 406.3 387.0 406.2 391.5 405.0 393.5 401.0 397.3 399.5 399.5 398.2 403.0 397.8 408.0 396.0 410.6 393.0 412.1 386.0 413.0 381.5 415.2 379.0 415.7 374.5 415.1 357.0 410.4 355.0 410.8 349.0 413.5 338.5 415.4 332.0 414.4 325.0 415.7 318.5 412.9 314.0 412.7 311.3 412.0 309.7 411.0 307.2 408.0 306.0 407.3 299.0 406.7 292.5 406.9 288.0 405.1 285.5 403.0 284.5 400.5 285.0 398.2 289.0 393.5 290.5 390.4 292.0 388.9 293.5 388.8 297.5 390.9 306.5 391.4 312.5 388.8 318.9 384.0 318.6 379.0 320.2 374.5 322.0 372.5 326.0 371.3 326.9 370.0 326.8 367.0 325.4 362.0 326.1 360.5 328.0 359.9 331.0 361.5 334.5 360.8 339.1 361.5 339.6 359.0 338.5 354.5 339.0 349.9 338.0 349.0 333.0 347.2 330.8 345.5 329.7 343.0 330.0 339.0 329.3 336.5 327.0 333.8 323.0 331.8 322.2 329.0 322.9 326.5 324.5 324.5 327.0 322.6 332.5 320.2 336.0 317.9 337.3 316.5 340.0 311.9 342.0 311.0 348.0 309.9 354.0 310.1 360.0 308.6 369.0 308.0 379.5 305.2 381.0 305.5 386.5 308.5 401.5 310.9 408.0 307.4 417.0 305.9 421.8 304.0ZM368.5 339.4 367.0 340.6 364.0 344.6 362.5 345.2 359.0 345.4 357.5 346.6 355.0 353.0 352.2 358.5 348.5 364.9 347.0 366.6 344.5 367.4 341.5 363.8 340.0 363.1 339.6 363.5 340.2 366.0 342.9 368.0 343.4 369.0 341.8 375.0 342.0 377.0 344.0 379.4 349.0 383.1 351.0 383.5 352.7 383.0 356.5 377.8 358.5 376.4 361.0 375.8 367.6 377.5 369.6 379.0 373.5 383.6 375.5 384.4 376.4 383.5 375.8 379.5 378.4 373.5 378.6 370.5 376.5 365.8 375.6 360.5 373.3 355.0 373.6 349.0 372.0 340.7 371.5 339.7 370.5 339.1 368.5 339.4ZM321.5 384.5 320.8 385.0 321.0 385.5 322.0 386.1 323.0 386.0 323.3 385.0 321.5 384.5ZM343.4 451.0 346.0 451.1 347.2 453.0 346.6 456.0 344.5 457.3 342.0 456.5 340.8 454.5 341.3 452.5 343.4 451.0ZM324.0 496.5 326.0 496.4 328.0 497.7 328.9 499.5 330.0 504.1 332.0 506.0 333.5 506.4 335.6 506.0 339.7 504.0 343.4 501.0 347.0 500.4 349.5 501.6 353.0 504.4 354.6 506.5 356.1 509.5 356.5 512.5 355.8 518.0 357.1 526.5 356.5 528.5 353.5 531.5 352.9 533.0 355.5 539.5 355.7 542.0 354.1 548.0 352.4 552.5 352.9 559.0 352.6 562.0 351.3 564.5 349.5 565.8 347.5 566.0 344.0 565.5 334.0 562.7 330.7 560.0 328.0 556.0 326.5 555.4 322.5 555.1 320.0 555.5 316.0 560.2 314.0 559.5 312.9 558.0 312.8 555.5 315.1 551.0 317.8 534.0 318.9 530.0 318.7 524.5 325.0 517.5 326.0 515.5 325.5 512.4 321.7 507.5 320.8 505.0 321.5 499.0 322.5 497.5 324.0 496.5ZM249.4 506.0 251.0 505.5 253.0 506.3 255.5 508.5 256.5 510.5 256.6 512.5 256.0 514.6 254.5 517.5 253.0 518.6 250.5 518.2 247.5 516.5 245.7 514.5 243.6 510.5 241.5 509.5 240.7 508.5 240.7 508.0 241.5 507.7 244.0 509.4 245.0 509.4 246.5 508.7 249.4 506.0ZM317.1 566.5 318.5 566.3 325.5 569.9 329.7 574.5 333.0 579.7 340.5 584.0 341.5 583.9 350.5 579.1 356.0 573.4 362.0 570.4 366.5 566.7 368.0 566.1 378.5 567.9 391.0 572.6 392.3 573.5 392.7 575.0 390.8 577.5 387.5 578.6 385.4 578.0 382.2 575.0 380.5 574.0 378.0 573.6 375.5 574.3 373.5 575.6 371.9 577.5 371.1 582.0 369.7 585.0 369.0 589.0 367.4 591.5 364.0 593.3 357.5 594.7 350.5 597.3 346.5 597.3 336.3 594.5 331.3 588.0 329.0 586.1 327.5 585.6 321.0 586.9 315.5 586.6 314.5 587.1 312.2 590.5 310.0 592.3 306.5 593.3 302.5 593.5 297.0 592.2 295.3 590.5 294.6 588.0 294.3 583.0 294.6 580.0 295.4 577.5 297.0 575.6 301.6 573.0 305.0 569.7 306.5 569.4 310.0 570.0 312.5 569.6 314.5 568.7 317.1 566.5ZM423.2 588.0 425.0 587.6 427.5 588.3 436.5 594.3 438.7 597.5 443.0 607.0 444.5 608.2 448.5 609.1 451.5 610.4 456.2 615.0 457.3 617.0 458.5 623.5 458.2 626.0 457.0 627.8 455.0 629.2 452.5 629.7 450.5 629.1 447.7 627.5 443.3 623.0 438.0 622.6 432.0 619.2 428.5 619.3 426.1 620.5 425.0 622.2 422.5 629.5 422.5 631.2 423.4 632.5 425.0 632.6 432.5 629.3 435.5 628.5 439.0 628.7 439.6 629.0 439.9 630.0 440.0 635.5 439.5 637.3 435.5 640.9 430.0 649.3 428.5 649.9 425.8 648.5 422.0 643.3 417.0 640.0 413.2 634.5 412.0 628.0 414.4 618.5 413.5 616.5 410.4 613.5 409.9 612.0 410.5 609.7 412.0 608.2 414.0 607.9 418.5 608.4 420.1 607.5 421.9 598.0 421.9 590.0 423.2 588.0ZM373.8 696.0 375.5 695.9 377.0 696.7 381.0 701.1 385.0 701.8 386.9 703.0 388.4 705.0 389.1 707.0 389.2 708.5 388.5 709.8 386.5 710.6 384.3 710.0 380.8 707.5 377.5 703.8 372.7 701.0 371.9 700.0 371.8 698.5 372.5 697.0 373.8 696.0ZM319.5 733.5 321.0 733.1 321.9 734.5 321.8 737.0 320.4 741.0 321.4 744.5 327.5 750.5 332.8 754.0 333.8 761.0 335.0 762.8 338.0 765.2 338.7 767.5 338.2 770.0 334.9 774.0 335.1 779.0 334.4 781.0 330.1 785.0 327.0 788.9 324.5 790.1 322.5 789.0 317.5 781.6 310.6 775.0 309.4 772.5 308.9 769.5 309.0 764.0 312.3 756.5 313.2 753.0 314.1 751.5 317.1 748.5 318.4 746.0 318.9 741.5 317.5 738.6 317.4 737.0 318.2 735.0 319.5 733.5ZM379.7 752.0 380.5 751.7 381.3 752.5 381.5 753.5 381.0 754.3 380.0 753.9 379.7 752.0ZM353.8 787.0 356.0 787.6 357.5 789.4 358.8 794.0 358.7 795.0 358.1 795.5 354.0 794.8 352.5 793.8 351.5 792.5 351.2 791.0 351.5 789.0 352.5 787.6 353.8 787.0ZM329.6 263.0 334.0 263.5 335.0 264.5 335.4 266.5 332.3 279.0 330.5 281.0 328.5 281.5 326.8 281.0 325.4 279.5 325.1 276.0 323.4 272.5 323.1 270.5 323.7 268.5 326.0 265.2 327.5 263.8 329.6 263.0ZM422.6 305.5 426.0 305.8 430.0 308.4 431.7 311.0 431.9 314.5 431.1 317.5 428.6 321.5 419.5 331.4 414.0 334.7 410.0 335.5 408.5 334.7 404.9 330.0 402.5 328.2 399.0 327.5 397.3 328.0 396.3 329.0 396.8 330.0 399.5 331.1 401.2 332.5 403.5 338.2 406.0 340.6 408.4 344.0 410.0 345.2 412.5 346.1 414.0 347.6 416.2 352.0 417.0 357.0 418.6 361.5 418.3 363.0 417.5 364.3 408.6 371.5 405.3 375.5 404.3 379.0 405.1 385.5 404.5 390.0 402.8 393.0 398.4 397.5 396.6 402.5 396.2 407.5 394.5 409.7 391.5 410.9 385.5 411.3 381.2 413.5 379.0 414.0 370.0 412.1 364.0 409.7 358.0 408.7 355.0 409.3 350.0 412.2 347.0 413.0 337.5 413.8 331.0 412.8 325.5 413.9 317.5 410.1 311.7 409.5 308.5 405.3 307.0 404.3 302.5 405.2 293.0 405.0 289.5 404.2 287.0 402.5 286.2 400.5 286.7 398.5 288.1 397.0 291.3 395.0 293.5 392.4 301.0 391.9 307.0 392.3 312.5 390.2 317.5 387.3 322.0 389.0 324.6 388.5 326.3 386.5 327.1 384.0 326.2 383.0 320.8 381.0 320.2 379.0 320.9 376.0 321.9 374.5 323.0 373.8 327.0 373.6 328.0 373.1 328.7 371.5 329.5 367.0 335.0 363.9 336.5 364.6 340.9 370.0 341.2 371.5 340.3 375.5 340.7 377.5 348.5 384.6 351.5 385.3 354.9 384.5 355.8 383.5 356.5 380.0 357.4 378.5 359.5 377.1 361.5 376.8 365.0 377.6 367.5 379.0 368.6 380.5 369.9 384.0 371.5 385.3 375.5 387.0 376.5 386.8 377.8 385.5 378.5 383.0 377.9 379.5 378.2 378.0 383.0 370.1 383.7 368.0 383.2 367.0 382.5 366.6 379.0 366.2 377.6 364.5 376.5 360.0 374.5 355.0 375.6 349.0 373.9 344.0 373.2 339.0 372.5 337.8 371.0 337.3 368.5 337.8 365.6 339.5 362.7 342.5 359.0 343.0 357.5 343.9 354.3 350.0 351.4 353.5 350.1 358.0 348.0 361.8 347.0 363.3 346.0 363.9 344.5 363.4 342.5 361.5 340.6 355.5 340.7 353.5 343.8 344.5 343.0 344.2 338.5 346.0 336.0 346.1 333.5 345.3 331.8 343.5 331.4 337.5 328.5 332.7 325.8 330.0 325.4 328.0 327.0 325.9 332.0 323.2 337.5 318.5 341.5 312.7 348.0 310.9 354.0 311.3 360.5 309.6 369.0 309.5 378.5 308.5 387.0 310.6 401.0 313.0 403.0 312.4 407.5 309.1 409.8 308.0 418.0 306.8 422.6 305.5ZM324.3 499.0 325.5 498.9 326.5 499.5 328.5 506.0 329.5 507.1 331.5 508.1 334.0 508.3 342.0 506.5 343.6 505.5 345.5 503.2 347.0 502.8 348.8 503.5 351.5 505.5 354.0 509.0 354.5 511.5 353.5 517.0 355.4 522.5 355.7 525.5 355.0 527.5 351.5 530.3 350.6 532.0 350.8 534.0 353.3 539.0 353.5 541.0 351.0 546.5 349.9 552.5 350.0 554.5 351.4 559.0 351.4 561.0 350.5 563.2 348.6 564.5 346.5 564.8 343.0 564.2 335.0 561.4 332.9 559.5 330.6 554.5 329.5 553.6 320.5 553.7 318.5 553.3 317.5 552.0 317.0 548.5 317.3 545.0 319.2 536.0 321.3 530.0 322.1 524.0 323.6 521.0 327.3 516.5 328.0 514.5 327.8 512.5 326.8 510.5 323.6 507.0 322.8 505.5 322.9 501.0 324.3 499.0ZM251.2 508.5 253.0 508.6 254.4 510.0 254.5 511.8 253.5 513.0 251.5 513.2 250.1 512.0 250.1 510.0 251.2 508.5ZM316.9 570.5 318.0 570.8 319.0 572.6 324.5 573.0 327.5 574.8 328.7 576.5 329.3 578.5 329.4 581.5 328.8 582.5 325.1 584.5 322.0 585.4 319.5 585.3 315.5 584.1 314.0 584.2 312.5 585.5 310.3 590.0 309.0 591.1 307.0 591.7 303.5 591.6 297.0 588.8 296.0 586.0 295.7 582.0 296.2 579.0 297.5 577.0 302.0 574.8 306.5 571.8 316.9 570.5ZM367.2 570.5 371.8 571.0 372.8 572.0 365.5 581.0 365.5 583.0 367.2 587.5 367.0 589.0 366.1 590.5 363.0 592.2 357.0 593.3 349.5 595.5 346.0 595.0 343.1 593.5 342.5 592.5 342.7 591.0 347.5 583.5 353.0 579.6 357.0 575.8 363.5 571.9 367.2 570.5ZM385.0 573.5 385.5 573.2 386.8 573.5 388.0 574.4 388.2 575.0 387.5 575.5 386.5 575.2 385.0 573.5ZM332.3 583.0 334.0 583.3 335.5 584.3 336.0 585.5 335.3 587.0 334.0 587.1 332.0 585.5 331.4 583.5 332.3 583.0ZM424.9 589.5 426.0 589.3 427.5 589.8 434.0 593.7 436.0 595.4 437.5 597.5 438.9 601.5 439.0 604.5 437.5 607.0 434.7 609.0 432.0 610.0 430.0 610.1 425.0 609.0 423.3 607.5 422.7 604.5 423.7 598.0 423.6 592.0 424.0 590.4 424.9 589.5ZM419.0 614.0 420.0 613.7 421.0 614.5 422.2 617.5 422.4 619.5 421.5 624.1 420.0 625.9 418.5 626.4 417.5 625.6 417.3 624.0 419.8 617.5 419.0 614.0ZM449.0 618.5 450.6 618.5 452.9 621.5 455.5 623.6 455.7 625.5 454.5 626.9 453.0 627.3 451.5 627.0 449.2 625.0 447.8 620.5 448.0 619.5 449.0 618.5ZM433.0 633.0 434.5 633.2 436.0 634.0 436.4 635.0 436.0 635.8 431.5 638.2 429.0 640.3 428.0 640.3 427.0 639.5 425.6 637.5 426.2 635.5 428.8 634.0 433.0 633.0ZM321.0 749.5 323.5 749.9 326.5 753.8 329.5 755.1 330.5 756.0 333.8 766.0 333.5 768.0 331.2 773.0 332.3 778.0 332.1 780.0 326.5 785.5 325.0 786.4 323.0 785.6 317.0 778.7 312.0 774.6 311.0 773.0 310.4 771.0 310.5 765.5 311.6 762.0 314.8 757.0 316.6 753.0 319.0 750.7 321.0 749.5ZM328.6 265.0 332.5 264.8 333.5 265.4 333.8 266.5 332.3 273.0 331.0 274.7 329.5 275.5 328.5 275.3 326.0 273.2 325.1 272.0 324.7 270.5 326.0 267.4 328.6 265.0Z"/>
<path d="M421.4 307.5 425.0 307.5 428.5 309.0 430.5 311.5 430.7 314.5 429.9 317.5 427.4 321.5 419.0 330.8 414.5 333.3 411.0 333.9 409.0 332.9 403.5 327.6 400.5 326.3 398.0 326.2 394.9 327.5 391.5 331.4 388.7 333.5 388.2 334.5 388.8 336.0 390.5 336.5 391.7 336.0 393.8 333.5 395.5 332.4 397.5 332.1 399.6 333.0 400.7 334.5 401.5 338.5 402.5 340.3 409.0 346.7 412.5 349.0 413.6 350.5 414.7 353.5 415.5 362.0 414.3 364.5 405.5 373.0 404.1 375.0 403.2 378.5 404.1 384.5 403.7 387.5 401.0 392.0 396.5 395.5 394.8 402.5 394.4 406.5 393.0 408.4 390.5 409.3 385.0 409.1 380.5 411.6 378.5 412.0 371.8 410.5 367.5 407.6 358.0 407.4 354.0 408.5 350.0 411.1 347.5 412.1 344.0 412.6 337.5 412.4 325.7 409.5 319.0 408.6 312.5 406.2 308.5 402.6 306.5 401.8 304.5 401.9 301.0 403.1 295.5 403.3 291.0 402.8 288.5 401.5 288.1 400.0 289.0 398.6 293.0 396.6 295.5 394.5 297.6 393.5 301.0 392.8 308.0 393.2 313.5 391.9 317.5 389.8 322.0 391.4 323.5 391.3 325.2 390.5 328.0 387.6 331.7 381.5 336.2 376.5 335.1 374.5 332.2 371.5 332.1 370.0 333.5 368.9 337.0 369.7 338.8 371.0 339.0 373.0 337.6 376.0 338.9 378.0 344.2 382.0 347.9 386.0 353.0 387.1 354.8 388.5 355.8 391.0 356.0 393.0 354.1 396.0 353.8 397.5 354.6 399.0 356.0 399.9 357.0 400.0 357.9 399.0 358.1 394.5 360.2 391.0 361.4 385.5 361.2 384.0 358.9 381.0 359.0 379.5 360.0 378.5 362.5 378.3 365.5 379.6 366.5 381.0 366.7 384.5 368.5 386.2 375.0 389.1 376.0 389.2 377.0 388.6 378.5 386.7 379.4 384.5 379.9 379.5 380.5 377.8 382.0 376.3 385.5 375.3 386.6 374.5 386.6 368.0 386.2 366.5 385.3 365.5 380.0 364.2 379.0 363.5 376.1 356.5 375.8 354.0 377.1 350.5 377.4 348.0 377.0 346.5 375.0 343.0 375.0 338.5 374.5 337.1 372.5 336.0 370.0 335.9 362.5 338.9 357.5 340.1 355.5 343.0 353.4 348.5 349.5 353.0 347.5 358.1 346.0 359.9 345.0 360.2 344.0 359.7 343.0 358.0 342.4 356.0 342.4 354.0 345.0 348.1 349.0 344.0 349.2 342.5 347.2 341.0 342.5 340.2 341.0 340.5 337.5 342.9 335.0 342.9 334.0 341.5 333.3 337.5 329.7 331.5 329.2 329.5 329.5 328.0 339.2 318.5 342.1 314.0 343.6 313.0 346.5 312.1 349.0 311.8 354.0 312.5 361.0 310.6 375.0 311.0 384.4 312.0 390.7 313.5 395.0 315.4 400.5 315.3 403.0 314.7 408.0 310.3 411.0 308.7 421.4 307.5ZM323.6 376.0 325.5 376.0 327.3 377.0 327.9 378.5 327.5 379.7 325.5 380.4 322.8 379.5 322.4 377.5 323.6 376.0ZM344.7 508.5 348.0 509.1 350.5 511.0 351.6 518.0 354.1 524.0 353.5 526.3 350.0 529.4 348.8 532.0 348.9 534.0 351.3 538.5 351.7 540.5 349.4 545.5 347.6 553.0 347.7 554.5 349.7 559.0 349.8 561.0 348.5 562.9 346.5 563.5 342.0 562.9 335.5 559.9 333.7 557.5 332.5 552.5 331.5 551.8 329.0 551.6 324.0 552.8 320.5 552.0 319.1 550.5 318.4 547.5 319.7 539.0 322.6 531.0 323.7 524.5 324.9 521.5 333.8 510.5 338.0 508.7 344.7 508.5ZM307.1 573.5 310.7 573.5 315.0 575.6 322.5 574.9 324.5 575.1 326.0 576.0 326.7 577.0 327.0 578.5 326.7 580.5 325.0 582.8 322.5 584.0 320.0 584.0 315.0 582.3 313.0 582.6 310.9 584.5 308.5 589.1 306.5 589.9 304.5 589.6 298.5 586.3 297.5 584.0 297.4 581.0 298.0 579.2 299.0 578.1 307.1 573.5ZM358.3 578.0 360.0 577.8 361.3 578.5 362.8 583.5 365.1 587.5 364.6 589.5 363.4 590.5 361.5 591.1 352.0 592.6 349.0 592.3 348.5 591.5 350.4 584.5 356.5 579.1 358.3 578.0ZM426.2 592.0 428.0 591.9 433.0 594.3 435.1 596.0 436.4 598.0 437.0 600.5 436.5 602.5 434.5 605.0 432.5 606.4 430.5 606.9 428.0 606.6 426.3 606.0 425.4 605.0 425.0 602.5 425.6 593.5 426.2 592.0ZM325.5 757.5 328.0 757.6 329.5 758.7 331.0 762.3 331.5 765.5 330.9 768.0 327.9 773.5 328.4 778.5 326.3 780.5 324.0 781.2 321.0 779.8 317.0 776.1 313.3 773.5 312.3 771.0 312.4 766.5 313.6 762.5 317.0 759.1 320.0 757.8 325.5 757.5ZM328.8 267.0 331.0 266.9 332.0 268.0 331.3 272.0 330.5 272.9 329.5 273.3 327.5 272.5 326.3 270.5 327.1 268.5 328.8 267.0ZM420.0 309.0 425.0 309.1 428.0 310.4 429.3 312.5 429.3 316.0 426.4 321.5 419.8 329.0 417.0 331.2 413.5 332.7 411.5 332.8 410.0 332.2 405.0 327.6 402.0 325.8 399.5 325.0 397.5 325.0 394.0 326.4 390.5 330.2 387.0 332.5 386.0 334.0 385.0 337.3 384.5 337.5 379.5 336.0 370.5 334.5 362.0 336.8 356.5 337.0 353.0 339.5 351.5 339.9 344.5 338.7 339.5 337.2 336.5 337.1 333.0 334.5 331.3 331.5 331.2 329.5 332.2 327.5 340.3 319.0 343.0 315.0 346.5 313.1 349.0 312.9 353.5 313.8 358.5 311.9 361.0 311.5 369.5 312.8 375.5 312.8 383.0 313.9 393.0 317.6 395.0 318.0 404.0 316.7 405.6 315.5 408.8 311.5 412.0 309.6 420.0 309.0ZM396.3 334.0 397.5 333.8 398.9 334.5 399.5 336.0 399.6 339.5 400.4 341.0 406.0 345.5 410.0 350.9 412.3 353.0 413.1 355.0 413.2 358.0 412.2 363.5 409.7 367.5 407.5 369.9 405.5 371.1 404.0 371.5 403.0 371.3 401.0 369.4 399.8 369.5 399.9 370.5 402.0 373.7 401.9 378.5 403.1 383.5 402.9 386.0 402.0 387.9 400.0 390.0 398.5 390.9 395.5 391.2 394.3 392.0 393.8 393.5 393.5 400.0 391.5 405.3 390.5 406.3 385.0 406.0 379.5 409.4 377.0 409.9 375.2 409.5 374.0 408.7 372.5 405.0 369.5 404.5 363.0 406.2 356.5 406.4 352.5 408.0 348.0 411.1 343.0 411.8 336.0 410.9 326.3 407.0 319.0 406.8 313.0 403.9 309.5 400.8 307.0 399.8 304.0 399.7 296.5 401.2 294.0 400.9 292.7 400.0 297.1 395.5 300.1 394.0 303.0 393.9 309.0 394.9 312.0 397.3 313.0 397.5 314.5 397.0 318.5 394.0 324.5 392.9 326.5 391.6 328.9 389.0 333.8 381.5 335.5 380.2 337.0 379.7 339.0 380.1 342.6 382.0 347.0 387.0 351.5 388.2 353.0 389.2 353.8 390.5 354.0 392.0 352.0 396.5 352.1 398.0 353.5 400.0 356.0 401.7 357.5 401.8 358.9 400.5 362.8 389.0 364.0 387.6 366.0 387.4 370.5 388.9 372.0 389.5 374.5 391.8 376.5 391.8 379.0 388.2 382.3 379.5 388.0 376.8 389.4 375.5 389.8 374.5 387.7 365.5 386.0 364.2 380.4 362.5 377.3 356.5 377.1 354.0 379.5 346.0 380.5 344.2 384.0 341.0 385.5 338.7 392.5 338.3 396.3 334.0ZM350.7 346.5 351.4 347.0 351.1 348.0 345.4 355.0 345.0 354.0 346.5 349.3 348.4 347.5 350.7 346.5ZM337.4 510.5 339.5 510.2 343.0 510.9 347.0 513.1 348.6 515.0 351.9 523.0 351.8 525.0 348.5 529.3 347.2 532.5 347.4 535.0 349.6 540.0 348.0 544.5 347.2 549.0 346.0 551.1 344.5 552.0 343.0 551.7 339.0 548.4 337.5 548.0 325.0 551.6 322.5 551.5 321.0 550.6 320.1 549.0 319.9 544.5 320.8 539.5 323.8 530.5 325.4 523.5 327.7 520.0 333.6 515.0 335.8 511.5 337.4 510.5ZM341.1 554.5 343.5 554.1 345.5 555.3 347.7 559.0 347.9 560.5 347.2 561.5 345.5 562.1 342.5 561.8 339.4 560.5 336.5 558.5 335.7 557.0 336.0 555.6 341.1 554.5ZM307.8 575.0 310.0 575.5 311.5 577.0 312.8 579.0 312.1 580.5 306.5 585.9 300.5 584.2 299.6 582.5 300.1 580.5 305.6 576.0 307.8 575.0ZM320.9 576.5 323.5 576.6 325.1 578.0 324.8 580.5 323.0 582.3 321.5 582.7 319.5 582.4 316.9 581.0 315.3 579.5 316.4 578.0 320.9 576.5ZM357.2 582.0 358.5 581.9 359.2 582.5 361.4 588.0 359.5 589.0 355.5 589.4 354.0 589.1 353.1 587.5 353.4 585.5 357.2 582.0ZM428.7 594.5 430.5 594.5 432.7 595.5 434.3 597.0 435.0 598.5 435.0 600.0 434.5 601.2 431.5 603.5 429.0 603.4 427.5 601.5 427.3 597.0 427.7 595.5 428.7 594.5ZM324.9 760.0 327.0 760.1 328.5 761.2 329.5 763.5 329.5 766.0 328.5 768.2 326.5 770.7 323.5 772.7 322.0 773.1 316.5 769.1 315.8 767.0 315.8 765.0 317.0 762.6 319.0 761.0 321.5 760.3 324.9 760.0ZM419.9 310.0 424.0 310.1 426.6 311.0 428.1 313.0 428.2 316.0 425.4 321.5 419.8 328.0 417.0 330.4 414.0 331.7 412.0 331.9 410.5 331.4 403.0 325.3 400.0 323.8 398.0 323.5 395.5 323.8 393.5 324.7 389.9 329.0 382.5 333.9 376.0 334.0 370.0 332.8 364.0 334.4 356.0 335.0 351.0 337.2 346.5 337.7 343.5 337.0 339.5 334.2 335.0 333.9 333.8 333.0 333.0 331.5 332.9 329.5 333.8 328.0 341.0 320.1 344.0 315.8 347.0 314.1 349.0 314.0 353.5 314.9 358.5 312.9 361.0 312.5 363.7 313.0 368.5 314.8 376.5 314.5 382.0 315.7 386.5 317.8 394.5 320.3 403.0 318.8 406.0 317.7 407.5 316.5 410.5 312.5 413.0 310.7 419.9 310.0ZM389.7 340.5 393.5 340.8 400.5 343.5 404.5 345.7 406.5 347.8 408.5 352.1 411.3 356.0 411.4 358.0 410.8 360.5 408.3 366.5 406.8 368.5 405.5 369.1 404.5 369.0 401.5 367.0 398.5 366.1 397.5 366.2 396.8 367.0 397.0 369.5 399.9 375.0 400.0 379.0 401.9 383.0 401.6 386.0 400.5 387.4 399.0 388.2 395.0 388.2 393.0 389.0 391.6 391.5 392.0 397.5 391.0 400.5 389.0 402.2 384.0 403.8 379.5 406.6 377.0 406.9 374.8 403.5 373.0 402.8 368.5 403.0 362.5 404.8 360.1 404.5 359.4 404.0 359.4 403.0 361.5 397.3 364.0 394.0 365.0 390.3 366.5 389.8 369.5 390.5 371.0 391.2 374.1 394.0 375.5 394.3 377.0 393.8 379.0 391.7 383.0 382.0 390.7 377.0 391.9 375.5 392.0 374.0 390.5 370.3 389.3 365.0 387.5 363.5 382.5 362.2 381.0 361.2 378.9 357.5 378.2 355.0 380.2 348.5 381.5 345.9 387.5 341.3 389.7 340.5ZM336.7 381.5 339.0 381.6 342.0 382.9 346.0 387.9 351.0 389.5 352.3 391.0 352.3 393.0 350.6 396.5 350.7 398.5 352.0 400.4 355.7 403.5 356.0 404.5 347.0 410.6 343.5 411.0 338.0 410.1 328.0 406.1 319.5 405.2 315.9 403.0 314.5 401.5 315.2 399.5 318.5 396.5 320.5 395.4 325.5 394.0 327.0 393.0 331.1 388.5 334.0 383.3 336.7 381.5ZM300.4 395.5 302.0 395.2 304.0 395.5 305.5 396.5 305.5 397.0 302.5 397.9 300.0 397.9 299.2 397.0 300.4 395.5ZM338.4 514.0 339.5 513.9 340.3 515.5 341.5 516.3 345.5 516.6 347.0 517.4 348.5 519.4 349.7 522.5 349.5 525.0 346.7 530.5 345.8 533.5 346.4 540.0 345.9 548.0 345.0 549.3 343.5 549.5 341.9 548.5 339.9 546.0 338.5 545.6 333.0 548.1 325.0 550.4 323.0 550.3 321.9 549.5 321.2 548.0 321.3 543.5 323.4 535.0 327.0 523.9 328.5 521.2 330.5 519.1 333.0 517.6 337.0 516.5 337.7 516.0 338.4 514.0ZM340.9 556.5 343.0 556.3 344.4 557.0 345.3 558.5 345.0 560.0 343.0 560.5 340.6 559.5 339.5 558.0 340.0 557.0 340.9 556.5ZM307.3 577.0 309.1 577.5 309.6 579.5 308.0 581.1 306.0 581.3 305.0 580.6 305.0 579.5 305.9 578.0 307.3 577.0ZM320.2 578.5 322.5 578.4 323.0 579.0 322.7 580.0 321.5 580.8 320.0 580.5 319.3 579.5 320.2 578.5ZM430.2 596.5 431.5 596.7 432.7 598.0 432.5 599.4 431.5 600.2 430.0 600.2 429.1 599.0 429.1 597.5 430.2 596.5ZM322.8 762.5 325.6 763.0 326.9 764.5 326.5 766.7 324.5 768.4 323.0 768.4 321.5 767.7 320.0 765.6 320.5 763.5 322.8 762.5ZM418.1 311.0 423.0 310.9 426.0 312.0 427.2 314.0 426.9 317.0 424.2 322.0 418.0 328.8 414.5 330.7 412.5 331.0 411.0 330.7 402.4 323.5 401.6 322.5 401.5 321.5 408.0 318.0 413.8 312.0 418.1 311.0ZM358.1 314.0 360.5 313.6 362.5 314.0 367.5 317.6 369.0 317.5 374.5 315.9 381.0 317.1 388.5 320.5 389.8 321.5 390.6 323.5 390.1 326.0 388.1 328.5 381.0 332.2 375.0 332.5 371.0 330.1 369.5 329.8 365.5 331.4 355.0 333.2 347.5 335.9 344.5 335.8 343.0 334.9 340.5 331.9 335.5 331.4 335.0 330.5 335.4 329.0 341.0 322.5 344.5 317.1 346.0 315.7 348.5 315.1 353.0 316.1 358.1 314.0ZM389.1 342.5 391.0 342.1 392.5 342.4 396.0 344.0 402.5 346.0 405.5 348.2 408.3 355.5 408.8 358.0 407.8 361.5 405.5 365.2 403.5 365.5 400.0 364.4 398.9 363.5 397.0 360.1 395.5 359.0 394.0 359.7 392.0 362.9 391.0 363.2 383.5 361.2 381.5 359.8 379.6 355.0 381.4 348.5 383.5 345.8 389.1 342.5ZM393.0 369.0 393.5 368.7 394.0 369.2 396.5 372.7 397.0 374.5 396.5 375.5 395.5 375.5 395.0 375.0 393.2 371.0 393.0 369.0ZM392.0 378.5 394.5 378.3 396.5 381.0 399.8 382.5 400.3 384.5 398.7 386.0 395.5 385.7 393.5 386.2 390.8 388.5 389.3 391.5 389.7 397.0 389.4 398.5 388.5 399.6 386.1 401.0 380.0 403.2 379.0 403.0 377.2 400.5 376.0 399.9 372.0 400.9 367.5 401.0 364.0 402.6 362.4 402.5 362.1 401.0 363.0 398.8 364.0 398.0 367.0 397.2 369.3 394.0 370.5 394.1 375.0 396.8 376.5 396.7 378.0 395.7 380.8 392.5 382.0 387.2 383.5 384.2 392.0 378.5ZM336.5 383.5 338.5 383.3 341.0 384.1 342.5 385.3 345.0 389.0 346.5 389.8 349.7 390.5 350.8 391.5 350.8 393.0 349.3 396.5 349.3 398.5 350.1 400.5 353.0 404.0 352.4 405.0 346.5 409.8 344.5 410.2 342.6 410.0 337.2 408.5 332.0 406.0 321.0 404.1 319.0 403.2 317.7 401.5 317.8 399.5 319.6 397.5 322.0 396.2 326.5 395.2 328.0 394.2 332.6 389.0 335.0 384.6 336.5 383.5ZM334.1 519.5 345.0 519.4 346.5 520.1 347.5 521.6 347.8 525.0 344.5 533.5 343.3 542.0 342.0 543.2 339.5 543.0 338.0 543.4 335.0 545.9 333.0 546.9 324.0 549.0 322.8 548.0 322.5 545.5 324.4 539.5 324.6 535.5 325.2 533.0 327.0 528.6 328.0 527.3 329.0 526.8 331.5 527.5 332.0 527.2 332.1 525.0 330.9 523.0 330.9 522.0 332.0 520.3 334.1 519.5ZM417.3 312.0 421.5 311.5 424.5 312.2 426.1 314.0 425.9 317.0 423.2 322.0 418.0 327.8 414.5 329.9 411.5 329.9 409.5 328.8 405.4 325.0 404.3 323.5 404.1 322.0 409.2 318.5 414.5 313.2 417.3 312.0ZM358.1 315.0 360.0 314.7 361.5 315.0 365.1 318.5 367.5 319.6 369.5 319.4 375.0 317.4 380.0 318.3 386.9 322.0 388.0 324.0 387.8 326.0 386.6 327.5 383.0 329.8 379.0 331.2 376.5 331.2 375.0 330.7 372.6 327.5 371.5 326.9 364.0 329.3 360.0 329.8 358.2 329.5 355.4 326.5 353.8 325.5 348.5 325.6 345.5 324.7 344.2 323.5 343.9 322.0 345.0 318.7 347.0 316.7 348.5 316.5 353.0 317.3 358.1 315.0ZM390.2 344.0 392.0 344.0 396.5 346.0 402.0 347.3 404.6 349.0 406.1 352.5 406.5 356.5 406.2 360.0 404.5 362.6 402.5 363.3 400.5 362.6 396.3 355.5 394.0 354.2 392.0 354.4 391.3 355.0 391.5 359.0 390.0 360.7 385.5 360.2 383.0 358.9 382.0 357.0 381.4 354.5 382.5 349.3 384.5 346.9 390.2 344.0ZM388.0 384.5 390.0 384.1 390.3 384.5 389.5 386.0 387.0 388.7 386.0 389.2 385.0 389.0 384.5 388.0 385.0 386.3 388.0 384.5ZM337.4 386.5 339.0 386.0 340.5 386.4 344.3 390.5 348.5 392.6 348.1 398.0 349.6 404.0 347.6 407.5 345.6 409.0 342.5 408.8 332.5 404.8 322.0 403.1 320.5 402.3 319.6 401.0 320.0 399.0 321.9 397.5 329.0 396.1 331.1 392.5 335.0 389.5 337.4 386.5Z"/>
<path d="M384.0 394.0 385.0 393.9 386.0 394.7 386.7 396.0 386.7 397.5 385.0 399.2 382.0 399.7 380.7 398.5 380.8 397.0 382.0 395.4 384.0 394.0ZM338.0 521.5 344.0 521.4 345.5 522.3 346.3 524.0 345.8 528.0 341.0 539.0 340.0 540.0 337.0 541.4 334.7 544.5 333.4 545.5 331.0 546.2 325.5 546.3 325.0 545.5 325.6 544.0 328.8 540.5 330.5 537.7 333.0 536.3 334.0 534.9 334.9 532.0 334.6 527.0 334.9 523.5 336.0 522.1 338.0 521.5ZM328.0 532.0 328.9 532.5 329.6 534.5 329.7 536.5 329.0 536.8 327.4 536.5 326.5 535.0 327.0 533.0 328.0 532.0ZM418.8 312.5 422.0 312.3 424.5 313.4 425.3 315.5 424.6 318.0 421.9 322.5 417.5 327.3 414.5 329.1 411.5 329.0 409.5 327.7 406.7 325.0 405.9 323.5 405.9 322.5 415.4 314.0 418.8 312.5ZM358.3 316.0 361.0 316.3 365.0 320.4 368.5 321.6 370.5 321.6 375.0 319.0 379.0 319.4 384.5 322.5 385.5 324.0 385.5 325.5 382.6 328.5 379.0 329.9 377.5 329.8 376.0 329.1 373.5 325.1 371.5 323.8 365.0 327.2 362.5 327.7 360.0 327.5 353.0 323.0 348.0 322.6 346.9 322.0 346.3 321.0 346.5 319.5 347.5 318.5 349.0 318.4 352.0 319.3 358.3 316.0ZM390.1 346.5 392.0 346.3 397.5 348.9 401.5 349.0 403.5 349.8 404.6 351.5 405.2 354.5 404.7 358.5 403.9 360.5 402.0 361.2 400.5 360.0 399.2 357.5 398.0 353.3 397.0 351.9 389.0 350.7 384.9 351.5 384.6 350.5 385.5 349.0 390.1 346.5ZM339.0 390.0 340.0 389.9 341.5 390.5 345.5 393.4 346.3 394.5 347.5 403.0 346.7 405.5 345.5 407.1 344.5 407.6 343.0 407.4 332.5 403.3 323.8 402.5 321.5 401.0 321.6 399.5 323.5 398.2 325.5 397.9 329.5 398.6 331.0 398.4 331.8 397.5 333.0 393.7 339.0 390.0ZM338.4 523.0 341.0 522.6 343.5 523.1 344.8 524.5 345.1 526.5 344.2 529.5 341.5 534.2 340.0 535.7 338.0 536.4 337.0 536.0 336.5 535.0 335.9 527.0 336.6 524.5 338.4 523.0ZM331.8 542.0 333.0 542.3 333.0 543.3 332.0 544.1 330.7 544.0 330.5 543.0 331.8 542.0ZM420.4 313.0 423.0 313.5 424.2 315.0 423.9 317.5 421.9 321.0 419.0 324.8 415.8 327.5 413.0 328.3 410.7 327.5 407.8 324.5 407.5 323.5 407.9 322.5 416.5 314.5 420.4 313.0ZM357.3 317.5 359.5 317.2 361.0 318.0 364.9 323.0 364.8 324.5 363.0 325.6 360.5 325.7 355.3 322.5 354.4 321.0 354.5 320.0 355.7 318.5 357.3 317.5ZM375.4 321.0 378.0 320.7 381.7 322.5 383.1 324.5 382.5 326.5 380.0 328.2 377.5 327.9 376.3 326.5 374.8 323.0 374.7 322.0 375.4 321.0ZM401.6 352.0 403.0 352.4 403.6 354.5 403.0 357.5 402.0 358.2 401.0 357.2 400.5 355.0 400.7 353.0 401.6 352.0ZM339.7 392.5 341.0 392.5 343.0 393.5 344.5 394.7 345.5 396.5 346.1 399.0 346.0 401.7 345.3 403.5 344.0 404.7 342.5 404.7 337.5 403.1 334.9 401.5 334.7 400.5 336.8 395.0 338.0 393.4 339.7 392.5ZM324.0 400.0 326.0 399.7 327.5 400.5 327.6 401.0 326.5 401.4 325.0 401.3 324.0 400.7 324.0 400.0ZM340.2 524.0 341.5 524.0 343.0 524.7 343.9 527.0 342.5 530.6 341.0 532.4 339.5 533.2 338.5 532.8 338.0 531.8 337.2 527.0 338.1 525.0 340.2 524.0ZM419.7 314.0 422.0 314.2 423.1 315.5 422.8 317.5 421.0 320.6 418.5 324.0 416.0 326.1 413.5 327.0 411.6 326.5 409.9 324.5 410.2 323.0 416.5 315.9 419.7 314.0ZM357.3 319.0 359.0 318.6 360.4 319.5 361.5 321.5 361.3 323.0 359.5 323.4 356.9 322.0 356.3 320.5 357.3 319.0ZM378.3 324.0 379.5 324.2 379.9 325.0 379.7 325.5 378.5 325.3 378.3 324.0ZM340.7 394.5 343.0 395.3 344.5 397.5 344.7 400.0 343.5 401.9 340.9 401.5 338.8 399.5 338.5 397.5 338.8 396.0 339.5 395.0 340.7 394.5ZM339.5 526.0 341.5 525.7 342.5 527.0 342.0 529.0 340.5 530.3 339.5 530.0 338.8 528.5 338.8 527.0 339.5 526.0ZM419.2 315.5 420.5 315.3 421.5 315.9 421.1 318.0 417.0 323.3 415.5 324.2 414.5 324.3 414.0 323.0 415.2 320.0 417.2 317.0 419.2 315.5Z"/>
<path d="M618.5 94.5 621.7 94.5 622.8 97.2 624.5 99.0 623.1 101.1 621.0 103.4 620.6 107.7 620.0 108.0 623.1 109.3 626.0 111.0 627.7 112.8 629.1 115.3 631.9 117.6 633.5 120.0 634.6 122.9 634.5 126.9 635.0 129.0 637.3 131.2 638.9 134.3 641.0 136.5 643.4 138.6 643.4 141.6 644.2 143.1 646.5 145.8 647.3 148.2 648.5 150.0 648.8 152.6 651.9 153.0 654.5 156.0 655.2 159.4 655.2 161.4 656.0 165.0 657.8 166.8 660.4 169.0 661.5 171.1 663.1 171.6 665.0 174.0 667.6 175.8 669.4 176.5 671.9 177.0 674.0 180.0 676.8 181.5 677.8 182.4 680.6 184.1 682.4 184.3 686.0 186.0 689.2 188.2 691.5 189.0"/>
<path d="M646.3 94.5 646.7 96.8 649.8 99.4 652.3 101.7 653.0 105.0 654.0 107.4 655.3 111.0 655.0 113.0 656.0 117.0 658.5 119.5 659.5 121.7 660.7 122.6 661.5 124.5 664.3 126.1 665.0 129.0 665.4 131.4 666.6 134.6 666.5 135.8 668.0 139.5 668.0 142.9 668.5 144.9 667.8 147.6 668.0 150.0 669.9 153.0 671.5 155.1 674.0 157.5 675.9 159.6 678.1 162.5 680.9 163.6 680.8 164.3 683.6 166.6 686.0 168.0 687.4 171.2 691.5 173.0"/>
<path d="M653.0 94.5 654.9 96.0 654.9 98.5 656.8 101.6 659.2 103.4 659.7 105.8 660.5 108.0 662.3 111.1 662.8 112.6 662.6 115.4 663.5 118.5 666.3 120.8 667.1 122.0 669.4 123.7 671.0 126.0 671.6 128.5 674.7 130.4 674.0 132.0 675.5 135.0 674.3 137.9 675.3 140.3 674.6 142.9 674.0 145.5 675.6 147.1 676.7 150.6 678.5 153.0 679.9 154.6 681.8 156.5 684.6 158.4 686.0 160.5 688.7 162.5 691.5 163.5"/>
<path d="M662.0 94.5 663.9 98.1 663.7 100.3 666.2 102.5 668.0 105.0 668.9 108.3 669.4 110.3 670.1 112.7 669.5 115.5 671.4 117.5 673.2 119.8 675.5 120.0 677.2 123.9 677.7 125.0 679.0 128.3 680.0 130.5 679.3 133.4 679.2 136.7 678.5 139.0 678.5 141.0 678.6 142.9 679.1 145.3 680.0 148.5 682.1 151.6 684.1 153.9 686.0 156.0 689.7 156.7 691.5 157.0"/>
<path d="M669.5 94.5 671.1 96.3 671.5 99.0 674.0 100.5 675.9 100.1 680.0 99.0 681.5 102.3 683.0 103.8 684.7 106.5 686.0 109.5 684.9 112.0 683.9 114.4 683.0 117.0 683.8 119.9 684.4 122.9 687.0 126.0 687.8 129.2 690.8 129.8 691.5 133.5"/>
<path d="M415.5 414.0 413.9 415.9 411.5 418.3 410.5 420.0 411.5 421.4 412.8 424.9 414.3 426.8 415.5 430.0 417.8 432.8 418.8 434.4 421.4 436.9 423.4 439.6 423.4 442.2 420.8 444.1 420.4 448.4 419.4 449.5 416.8 450.6 414.8 451.5 413.3 452.1 409.9 453.5 407.4 453.7 405.6 455.4 402.1 455.9 399.6 457.4 401.6 459.2 405.1 460.9 407.8 462.3 409.5 463.4 408.5 466.9 407.5 469.3 405.6 470.5 403.5 472.5 401.0 472.8 399.1 475.4 396.3 475.4 394.1 477.5 390.9 478.2 389.8 479.2 390.0 481.2 389.7 484.4 388.0 486.7 387.8 489.0 384.9 491.7 383.8 495.0 386.2 497.1 387.6 500.2 387.8 502.9 388.1 505.5 385.9 507.6 387.1 509.8 385.8 513.3 386.0 514.6 385.7 518.7 385.8 520.7 386.5 524.2 388.7 526.6 388.1 528.8 389.8 532.5 391.1 535.7 392.6 538.1 393.7 540.4 392.8 543.2 392.1 545.5 391.7 548.3 392.1 549.7 393.8 552.4 394.7 555.8 396.4 559.6 397.7 560.2 400.6 561.4 402.9 563.6 404.4 565.6 406.7 564.7 409.5 568.1 412.0 569.4 414.4 571.1 414.7 574.1 416.8 575.0 420.3 576.7 421.4 578.4 423.4 580.0 426.3 581.1 428.5 583.5 431.9 584.5 432.3 586.8 435.2 587.9 437.5 588.9 440.4 590.3 442.4 590.4 443.8 590.7 448.8 591.7 450.0 592.2 453.0 593.8 455.7 596.0 457.0 598.3 460.0 600.0"/>
<path d="M431.3 405.0 432.4 408.2 432.9 411.5 434.5 413.2 435.2 416.0 436.9 417.8 439.6 419.8 441.7 422.2 443.9 424.4 445.0 424.7 447.0 427.8 449.2 430.2 451.0 431.7 453.8 430.1 456.1 427.5 459.0 425.8 457.9 423.7 458.1 419.6 456.7 416.9 457.0 414.0 456.5 411.3 453.9 408.9 453.0 405.0"/>
<path d="M685.0 140.0 687.9 142.1 689.0 143.0 689.7 147.2 689.5 150.0 686.0 153.0 684.8 151.0 683.0 148.0 682.5 145.9 683.0 142.0 685.0 140.0"/>
</g>

<g fill="none" stroke="#ffffff" stroke-opacity="0.55" stroke-width="0.7">
<path d="M91.5 105.5L705 93 M91.5 208L705 195.5 M91.5 310.5L705 298 M91.5 413L705 400.5 M91.5 516L705 503.5 M91.5 618.5L705 606 M91.5 721L705 708.5 M91.5 823.6L705 811"/>
<path d="M106.5 824L92 94.5 M192 824L177.5 94.5 M277.2 824L262.7 94.5 M362.6 824L348.1 94.5 M448 824L433.5 94.5 M533.3 824L518.8 94.5 M618.7 824L604.2 94.5 M704 824L689.5 94.5"/>
</g>

<g fill="none" stroke="#000" stroke-width="2.2" stroke-linejoin="round" stroke-linecap="butt">
<path d="M496.2 94 L500 117 L500 136 L497.5 169.5 L480.5 209.5 L474.5 215.7 L468.9 222.2 L463.3 225.4 L457.7 226.4 L446.4 226 L429.5 211.9 L427 214.2 L445 232.5 L437.5 241 L420 223.5 L407.5 213 L404.5 210 L399.5 210.3 L391 215.7 L386 211 L397 202.8 L409.5 196.5 L397.5 200.6 L385 203.8 L381.3 205.6 L376.3 203.8 L371.3 200 L363.8 198.8 L355 200.6 L348.5 201.8 L346.9 203.8 L346.3 214.4 L339.5 220 L334.6 224.2 L328.3 230.5 L325.3 236.5 L322.3 240.3 L312.5 247 L310.3 250 L312.2 252.3 L309.5 257.6 L308 268 L312.5 277 L312.5 283 L307.6 292 L312.8 299 L313.6 306.5 L309 312.5 L309.4 317 L312.8 322.3 L306 325.3 L304.6 333.5 L306.8 338 L303 345.5 L303 353 L292.5 366.5 L276 378.5 L262.5 389 L258.8 395 L257.8 400 L255.6 410.5 L253.3 418 L249.6 418.8 L250.3 421 L252.6 421.8 L251 427.8 L245 428.8 L242.8 436 L241.3 445 L238.3 457.8 L236.8 459.3 L222.5 463.8 L201.5 467.9 L209 473.6 L207.5 481.8 L196.3 491.6 L199.3 498.3 L209 503.8 L222.5 508.3 L228.5 519.5 L242 530.8 L256.3 536 L264.6 528.5 L267.6 521 L263.8 516.5 L264.6 511.3 L270.6 506 L279.6 503.8 L288.6 506.8 L293 516.5 L296 527 L302 537.5 L301.4 545 L297.6 554 L290 560 L281 566 L280.3 573.6 L281.8 579.6 L278 586.3 L281.8 589.3 L276.6 592.3 L273.6 597.6 L277.3 603.6 L277.8 610 L278.4 631 L276.6 649 L272 661 L263 670.8 L253.3 669.8 L243.5 686.6 L230.8 691 L225.8 697 L229.3 701.6 L221.8 709 L223.3 718 L230 730 L241.5 747.5 L258.8 773.8 L271.6 772.8 L292.6 782 L305.3 798.6 L312 824.5"/>
<path d="M391 215.7 L398.5 223 L420 242 L424 239.5 L431 241 L437.5 241" stroke-width="1.8"/>
<path d="M458.2 824.5 L446.8 805.8 L415.3 799.8 L410 764.5 L415.3 733.8 L428.8 718 L423.5 707.5 L412.3 692.5 L428.8 675.3 L440.8 679.8 L444.5 665.5 L470 648.7 L551 595.5 L695 562.5 L705.5 562"/>
</g>
<g fill="#000" fill-opacity="0.75" stroke="none"><circle cx="413.8" cy="245" r="0.8"/><circle cx="422.5" cy="245.6" r="0.8"/><circle cx="406.3" cy="249.4" r="0.8"/><circle cx="405.6" cy="254.4" r="0.8"/><circle cx="411.3" cy="253.8" r="0.8"/><circle cx="421.3" cy="252.5" r="0.8"/><circle cx="425.6" cy="253.8" r="0.8"/><circle cx="437.5" cy="246.3" r="0.8"/><circle cx="440.6" cy="244.4" r="0.8"/><circle cx="456.3" cy="246.3" r="0.8"/><circle cx="458.8" cy="240" r="0.8"/><circle cx="460" cy="243.1" r="0.8"/><circle cx="520.4" cy="102.8" r="0.8"/><circle cx="518.7" cy="113.6" r="0.8"/><circle cx="508.6" cy="118.7" r="0.8"/><circle cx="507.6" cy="135.6" r="0.8"/><circle cx="510.3" cy="142.4" r="0.8"/><circle cx="502.5" cy="150.8" r="0.8"/><circle cx="504.2" cy="154.2" r="0.8"/><circle cx="544.7" cy="101.8" r="0.8"/><circle cx="508.2" cy="205.6" r="0.8"/><circle cx="516.3" cy="213.4" r="0.8"/><circle cx="487" cy="233.3" r="0.8"/><circle cx="495.8" cy="231.3" r="0.8"/><circle cx="469.2" cy="248.6" r="0.8"/><circle cx="482.8" cy="277.9" r="0.8"/><circle cx="496.8" cy="290.9" r="0.8"/><circle cx="672.5" cy="687.8" r="0.8"/><circle cx="419.8" cy="790.8" r="0.8"/><circle cx="419.8" cy="796.8" r="0.8"/><circle cx="425" cy="796.8" r="0.8"/><circle cx="431.8" cy="799" r="0.8"/><circle cx="458" cy="815.3" r="0.8"/><circle cx="353.7" cy="209.4" r="0.8"/><circle cx="360" cy="211.9" r="0.8"/><circle cx="368" cy="206" r="0.8"/><circle cx="482" cy="565.5" r="0.8"/><circle cx="480" cy="580" r="0.8"/><circle cx="483.5" cy="594" r="0.8"/><circle cx="477.5" cy="604.5" r="0.8"/><circle cx="479" cy="608.5" r="0.8"/><circle cx="482" cy="612" r="0.8"/><circle cx="483.5" cy="615" r="0.8"/><circle cx="488" cy="621" r="0.8"/><circle cx="488.6" cy="604.5" r="0.8"/><circle cx="505" cy="585.6" r="0.8"/><circle cx="505.4" cy="594.6" r="0.8"/><circle cx="513.5" cy="594" r="0.8"/><circle cx="518" cy="568.5" r="0.8"/><circle cx="542" cy="586.5" r="0.8"/><circle cx="621.6" cy="585.6" r="0.8"/></g>

</g>
<rect x="91.5" y="94.4" width="613.1" height="730.0" fill="none" stroke="#000" stroke-width="1.1"/>
<g font-family="DejaVu Sans, Liberation Sans, sans-serif" font-weight="bold" font-size="11.11">
<circle cx="334.6" cy="224.4" r="3.3" fill="#000" stroke="#fff" stroke-width="0.7"/>
<circle cx="355.6" cy="239.4" r="3.3" fill="#000" stroke="#fff" stroke-width="0.7"/>
<circle cx="332.6" cy="281.4" r="3.3" fill="#000" stroke="#fff" stroke-width="0.7"/>
<circle cx="307.6" cy="292.4" r="3.3" fill="#000" stroke="#fff" stroke-width="0.7"/>
<circle cx="438.6" cy="305.4" r="3.3" fill="#000" stroke="#fff" stroke-width="0.7"/>
<circle cx="363.6" cy="326.4" r="3.3" fill="#000" stroke="#fff" stroke-width="0.7"/>
<circle cx="374.6" cy="329.4" r="3.3" fill="#000" stroke="#fff" stroke-width="0.7"/>
<circle cx="381.6" cy="390.4" r="3.3" fill="#000" stroke="#fff" stroke-width="0.7"/>
<circle cx="336.6" cy="520.4" r="3.3" fill="#000" stroke="#fff" stroke-width="0.7"/>
<circle cx="325.6" cy="547.4" r="3.3" fill="#000" stroke="#fff" stroke-width="0.7"/>
<circle cx="324.6" cy="560.4" r="3.3" fill="#000" stroke="#fff" stroke-width="0.7"/>
<circle cx="236.6" cy="696.4" r="3.3" fill="#000" stroke="#fff" stroke-width="0.7"/>
<circle cx="244.6" cy="734.4" r="3.3" fill="#000" stroke="#fff" stroke-width="0.7"/>
<text x="341" y="224.2" fill="#fff" stroke="#000" stroke-width="1.6" stroke-linejoin="round" paint-order="stroke fill">SHL: 15.2 C</text>
<text x="362" y="239.2" fill="#fff" stroke="#000" stroke-width="1.6" stroke-linejoin="round" paint-order="stroke fill">SHT: 15.4 C</text>
<text x="339" y="281.2" fill="#fff" stroke="#000" stroke-width="1.6" stroke-linejoin="round" paint-order="stroke fill">LHT: 14.1 C</text>
<text x="314" y="292.2" fill="#fff" stroke="#000" stroke-width="1.6" stroke-linejoin="round" paint-order="stroke fill">LHL: 14.5 C</text>
<text x="445" y="305.2" fill="#fff" stroke="#000" stroke-width="1.6" stroke-linejoin="round" paint-order="stroke fill">BTO: 14.2 C</text>
<text x="370" y="326.2" fill="#fff" stroke="#000" stroke-width="1.6" stroke-linejoin="round" paint-order="stroke fill">GUT: 11.6 C</text>
<text x="380" y="350" fill="#fff" stroke="#000" stroke-width="1.6" stroke-linejoin="round" paint-order="stroke fill">TMT: 11.0 C</text>
<text x="388" y="390.2" fill="#fff" stroke="#000" stroke-width="1.6" stroke-linejoin="round" paint-order="stroke fill">OHT: 11.8 C</text>
<text x="343" y="520.2" fill="#fff" stroke="#000" stroke-width="1.6" stroke-linejoin="round" paint-order="stroke fill">CBT: 11.8 C</text>
<text x="332" y="547.2" fill="#fff" stroke="#000" stroke-width="1.6" stroke-linejoin="round" paint-order="stroke fill">FWT: 12.9 C</text>
<text x="331" y="560.2" fill="#fff" stroke="#000" stroke-width="1.6" stroke-linejoin="round" paint-order="stroke fill">NHT: 13.2 C</text>
<text x="243" y="696.2" fill="#fff" stroke="#000" stroke-width="1.6" stroke-linejoin="round" paint-order="stroke fill">KOL: 16.0 C</text>
<text x="251" y="734.2" fill="#fff" stroke="#000" stroke-width="1.6" stroke-linejoin="round" paint-order="stroke fill">KRT: 14.8 C</text>
</g>

<text x="382.0" y="20.8" font-family="DejaVu Sans, Liberation Sans, sans-serif" font-size="13.89" text-anchor="middle" fill="#000">Surface Temperature (2m AGL) [C]</text>
<text x="382.0" y="36.9" font-family="DejaVu Sans, Liberation Sans, sans-serif" font-size="13.89" text-anchor="middle" fill="#000">Valid 1700 LST (1500Z) WED 15 Oct 2025 [15hrFcst@0516z]</text>
<text x="382.0" y="53.3" font-family="DejaVu Sans, Liberation Sans, sans-serif" font-size="13.89" text-anchor="middle" fill="#000">FDV replot - DrJack BLIPMAP from RASP 1.3km GFSA-Initiated WRF-ARW model</text>
<text x="84.6" y="109.8" font-family="DejaVu Sans, Liberation Sans, sans-serif" font-size="10.85" text-anchor="end" fill="#000">33.85°S</text>
<text x="84.6" y="212.3" font-family="DejaVu Sans, Liberation Sans, sans-serif" font-size="10.85" text-anchor="end" fill="#000">33.9°S</text>
<text x="84.6" y="314.8" font-family="DejaVu Sans, Liberation Sans, sans-serif" font-size="10.85" text-anchor="end" fill="#000">33.95°S</text>
<text x="84.6" y="417.3" font-family="DejaVu Sans, Liberation Sans, sans-serif" font-size="10.85" text-anchor="end" fill="#000">34°S</text>
<text x="84.6" y="520.3" font-family="DejaVu Sans, Liberation Sans, sans-serif" font-size="10.85" text-anchor="end" fill="#000">34.05°S</text>
<text x="84.6" y="622.8" font-family="DejaVu Sans, Liberation Sans, sans-serif" font-size="10.85" text-anchor="end" fill="#000">34.1°S</text>
<text x="84.6" y="725.3" font-family="DejaVu Sans, Liberation Sans, sans-serif" font-size="10.85" text-anchor="end" fill="#000">34.15°S</text>
<text transform="translate(110.4,834.0) rotate(-90)" font-family="DejaVu Sans, Liberation Sans, sans-serif" font-size="10.85" text-anchor="end" fill="#000">18.25°E</text>
<text transform="translate(195.9,834.0) rotate(-90)" font-family="DejaVu Sans, Liberation Sans, sans-serif" font-size="10.85" text-anchor="end" fill="#000">18.3°E</text>
<text transform="translate(281.09999999999997,834.0) rotate(-90)" font-family="DejaVu Sans, Liberation Sans, sans-serif" font-size="10.85" text-anchor="end" fill="#000">18.35°E</text>
<text transform="translate(366.5,834.0) rotate(-90)" font-family="DejaVu Sans, Liberation Sans, sans-serif" font-size="10.85" text-anchor="end" fill="#000">18.4°E</text>
<text transform="translate(451.9,834.0) rotate(-90)" font-family="DejaVu Sans, Liberation Sans, sans-serif" font-size="10.85" text-anchor="end" fill="#000">18.45°E</text>
<text transform="translate(537.1999999999999,834.0) rotate(-90)" font-family="DejaVu Sans, Liberation Sans, sans-serif" font-size="10.85" text-anchor="end" fill="#000">18.5°E</text>
<text transform="translate(622.6,834.0) rotate(-90)" font-family="DejaVu Sans, Liberation Sans, sans-serif" font-size="10.85" text-anchor="end" fill="#000">18.55°E</text>
<g shape-rendering="crispEdges">
<rect x="26.00" y="879.5" width="34.15" height="29.899999999999977" fill="#0000e6"/>
<rect x="59.85" y="879.5" width="34.15" height="29.899999999999977" fill="#003ce6"/>
<rect x="93.69" y="879.5" width="34.15" height="29.899999999999977" fill="#007deb"/>
<rect x="127.54" y="879.5" width="34.15" height="29.899999999999977" fill="#00b4eb"/>
<rect x="161.38" y="879.5" width="34.15" height="29.899999999999977" fill="#00e1e1"/>
<rect x="195.23" y="879.5" width="34.15" height="29.899999999999977" fill="#00d7aa"/>
<rect x="229.07" y="879.5" width="34.15" height="29.899999999999977" fill="#00c373"/>
<rect x="262.92" y="879.5" width="34.15" height="29.899999999999977" fill="#00b43c"/>
<rect x="296.76" y="879.5" width="34.15" height="29.899999999999977" fill="#14ac0f"/>
<rect x="330.61" y="879.5" width="34.15" height="29.899999999999977" fill="#46b605"/>
<rect x="364.45" y="879.5" width="34.15" height="29.899999999999977" fill="#82c800"/>
<rect x="398.30" y="879.5" width="34.15" height="29.899999999999977" fill="#b9d900"/>
<rect x="432.15" y="879.5" width="34.15" height="29.899999999999977" fill="#dee100"/>
<rect x="465.99" y="879.5" width="34.15" height="29.899999999999977" fill="#ebd200"/>
<rect x="499.84" y="879.5" width="34.15" height="29.899999999999977" fill="#eebe00"/>
<rect x="533.68" y="879.5" width="34.15" height="29.899999999999977" fill="#edaa00"/>
<rect x="567.53" y="879.5" width="34.15" height="29.899999999999977" fill="#ec9100"/>
<rect x="601.37" y="879.5" width="34.15" height="29.899999999999977" fill="#ec7300"/>
<rect x="635.22" y="879.5" width="34.15" height="29.899999999999977" fill="#ea4600"/>
<rect x="669.06" y="879.5" width="34.15" height="29.899999999999977" fill="#ea1e0a"/>
<rect x="702.91" y="879.5" width="34.15" height="29.899999999999977" fill="#e10500"/>
<rect x="736.75" y="879.5" width="34.15" height="29.899999999999977" fill="#be0023"/>
</g>
<rect x="26.0" y="879.5" width="744.6" height="29.899999999999977" fill="none" stroke="#000" stroke-width="1.1"/>
<line x1="26.00" y1="909.4" x2="26.00" y2="914.3" stroke="#000" stroke-width="1.1"/>
<text x="26.00" y="930.2" font-family="DejaVu Sans, Liberation Sans, sans-serif" font-size="13.89" text-anchor="middle" fill="#000">6.75</text>
<line x1="59.85" y1="909.4" x2="59.85" y2="912.1999999999999" stroke="#000" stroke-width="0.8"/>
<line x1="93.69" y1="909.4" x2="93.69" y2="914.3" stroke="#000" stroke-width="1.1"/>
<text x="93.69" y="930.2" font-family="DejaVu Sans, Liberation Sans, sans-serif" font-size="13.89" text-anchor="middle" fill="#000">8.25</text>
<line x1="127.54" y1="909.4" x2="127.54" y2="912.1999999999999" stroke="#000" stroke-width="0.8"/>
<line x1="161.38" y1="909.4" x2="161.38" y2="914.3" stroke="#000" stroke-width="1.1"/>
<text x="161.38" y="930.2" font-family="DejaVu Sans, Liberation Sans, sans-serif" font-size="13.89" text-anchor="middle" fill="#000">9.75</text>
<line x1="195.23" y1="909.4" x2="195.23" y2="912.1999999999999" stroke="#000" stroke-width="0.8"/>
<line x1="229.07" y1="909.4" x2="229.07" y2="914.3" stroke="#000" stroke-width="1.1"/>
<text x="229.07" y="930.2" font-family="DejaVu Sans, Liberation Sans, sans-serif" font-size="13.89" text-anchor="middle" fill="#000">11.25</text>
<line x1="262.92" y1="909.4" x2="262.92" y2="912.1999999999999" stroke="#000" stroke-width="0.8"/>
<line x1="296.76" y1="909.4" x2="296.76" y2="914.3" stroke="#000" stroke-width="1.1"/>
<text x="296.76" y="930.2" font-family="DejaVu Sans, Liberation Sans, sans-serif" font-size="13.89" text-anchor="middle" fill="#000">12.75</text>
<line x1="330.61" y1="909.4" x2="330.61" y2="912.1999999999999" stroke="#000" stroke-width="0.8"/>
<line x1="364.45" y1="909.4" x2="364.45" y2="914.3" stroke="#000" stroke-width="1.1"/>
<text x="364.45" y="930.2" font-family="DejaVu Sans, Liberation Sans, sans-serif" font-size="13.89" text-anchor="middle" fill="#000">14.25</text>
<line x1="398.30" y1="909.4" x2="398.30" y2="912.1999999999999" stroke="#000" stroke-width="0.8"/>
<line x1="432.15" y1="909.4" x2="432.15" y2="914.3" stroke="#000" stroke-width="1.1"/>
<text x="432.15" y="930.2" font-family="DejaVu Sans, Liberation Sans, sans-serif" font-size="13.89" text-anchor="middle" fill="#000">15.75</text>
<line x1="465.99" y1="909.4" x2="465.99" y2="912.1999999999999" stroke="#000" stroke-width="0.8"/>
<line x1="499.84" y1="909.4" x2="499.84" y2="914.3" stroke="#000" stroke-width="1.1"/>
<text x="499.84" y="930.2" font-family="DejaVu Sans, Liberation Sans, sans-serif" font-size="13.89" text-anchor="middle" fill="#000">17.25</text>
<line x1="533.68" y1="909.4" x2="533.68" y2="912.1999999999999" stroke="#000" stroke-width="0.8"/>
<line x1="567.53" y1="909.4" x2="567.53" y2="914.3" stroke="#000" stroke-width="1.1"/>
<text x="567.53" y="930.2" font-family="DejaVu Sans, Liberation Sans, sans-serif" font-size="13.89" text-anchor="middle" fill="#000">18.75</text>
<line x1="601.37" y1="909.4" x2="601.37" y2="912.1999999999999" stroke="#000" stroke-width="0.8"/>
<line x1="635.22" y1="909.4" x2="635.22" y2="914.3" stroke="#000" stroke-width="1.1"/>
<text x="635.22" y="930.2" font-family="DejaVu Sans, Liberation Sans, sans-serif" font-size="13.89" text-anchor="middle" fill="#000">20.25</text>
<line x1="669.06" y1="909.4" x2="669.06" y2="912.1999999999999" stroke="#000" stroke-width="0.8"/>
<line x1="702.91" y1="909.4" x2="702.91" y2="914.3" stroke="#000" stroke-width="1.1"/>
<text x="702.91" y="930.2" font-family="DejaVu Sans, Liberation Sans, sans-serif" font-size="13.89" text-anchor="middle" fill="#000">21.75</text>
<line x1="736.75" y1="909.4" x2="736.75" y2="912.1999999999999" stroke="#000" stroke-width="0.8"/>
<line x1="770.60" y1="909.4" x2="770.60" y2="914.3" stroke="#000" stroke-width="1.1"/>
<text x="770.60" y="930.2" font-family="DejaVu Sans, Liberation Sans, sans-serif" font-size="13.89" text-anchor="middle" fill="#000">23.25</text>
<text x="397.8" y="948.4" font-family="DejaVu Sans, Liberation Sans, sans-serif" font-size="13.89" text-anchor="middle" fill="#000">sfctemp [C]</text>
</svg>
</body></html>
